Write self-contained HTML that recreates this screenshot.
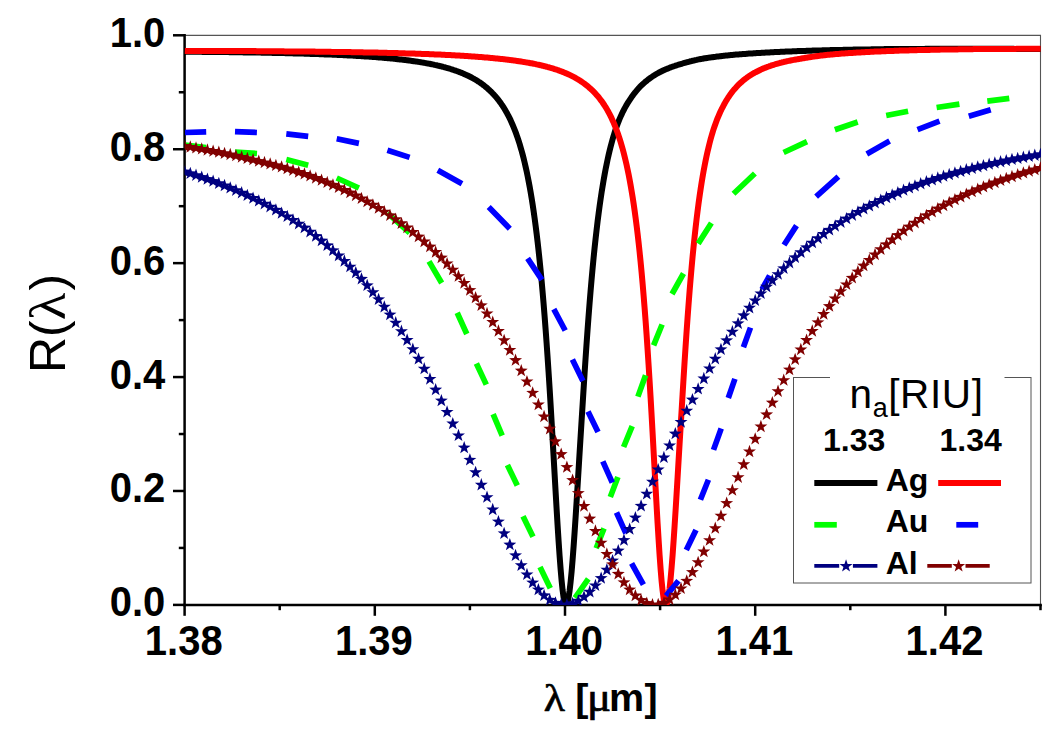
<!DOCTYPE html><html><head><meta charset="utf-8"><title>chart</title><style>
html,body{margin:0;padding:0;background:#fff;}
body{width:1054px;height:737px;position:relative;overflow:hidden;font-family:"Liberation Sans",sans-serif;color:#000;}
.t{position:absolute;white-space:nowrap;line-height:1;}
.b{font-weight:bold;}
.yl{font-size:40px;font-weight:bold;text-align:right;width:100px;left:64.5px;}
.xl{font-size:40px;font-weight:bold;text-align:center;width:120px;}
.lg{font-size:32px;font-weight:bold;}
.sy{font-family:"Liberation Serif",serif;}
</style></head><body>
<svg width="1054" height="737" viewBox="0 0 1054 737" style="position:absolute;left:0;top:0">
<defs><clipPath id="c"><rect x="184.60" y="34.80" width="856.40" height="570.10"/></clipPath></defs>
<line x1="184.60" y1="35.40" x2="1041.00" y2="35.40" stroke="#555" stroke-width="1.1"/>
<line x1="1040.50" y1="34.90" x2="1040.50" y2="604.90" stroke="#555" stroke-width="1.1"/>
<line x1="184.60" y1="34.05" x2="184.60" y2="606.15" stroke="#000" stroke-width="2.50"/>
<line x1="183.35" y1="604.90" x2="1041.85" y2="604.90" stroke="#000" stroke-width="2.50"/>
<line x1="173.00" y1="604.90" x2="184.60" y2="604.90" stroke="#000" stroke-width="2.50"/>
<line x1="178.80" y1="547.94" x2="184.60" y2="547.94" stroke="#000" stroke-width="2.50"/>
<line x1="173.00" y1="490.98" x2="184.60" y2="490.98" stroke="#000" stroke-width="2.50"/>
<line x1="178.80" y1="434.02" x2="184.60" y2="434.02" stroke="#000" stroke-width="2.50"/>
<line x1="173.00" y1="377.06" x2="184.60" y2="377.06" stroke="#000" stroke-width="2.50"/>
<line x1="178.80" y1="320.10" x2="184.60" y2="320.10" stroke="#000" stroke-width="2.50"/>
<line x1="173.00" y1="263.14" x2="184.60" y2="263.14" stroke="#000" stroke-width="2.50"/>
<line x1="178.80" y1="206.18" x2="184.60" y2="206.18" stroke="#000" stroke-width="2.50"/>
<line x1="173.00" y1="149.22" x2="184.60" y2="149.22" stroke="#000" stroke-width="2.50"/>
<line x1="178.80" y1="92.26" x2="184.60" y2="92.26" stroke="#000" stroke-width="2.50"/>
<line x1="173.00" y1="35.30" x2="184.60" y2="35.30" stroke="#000" stroke-width="2.50"/>
<line x1="184.60" y1="604.90" x2="184.60" y2="615.80" stroke="#000" stroke-width="2.50"/>
<line x1="279.70" y1="604.90" x2="279.70" y2="610.20" stroke="#000" stroke-width="2.50"/>
<line x1="374.80" y1="604.90" x2="374.80" y2="615.80" stroke="#000" stroke-width="2.50"/>
<line x1="469.90" y1="604.90" x2="469.90" y2="610.20" stroke="#000" stroke-width="2.50"/>
<line x1="565.00" y1="604.90" x2="565.00" y2="615.80" stroke="#000" stroke-width="2.50"/>
<line x1="660.10" y1="604.90" x2="660.10" y2="610.20" stroke="#000" stroke-width="2.50"/>
<line x1="755.20" y1="604.90" x2="755.20" y2="615.80" stroke="#000" stroke-width="2.50"/>
<line x1="850.30" y1="604.90" x2="850.30" y2="610.20" stroke="#000" stroke-width="2.50"/>
<line x1="945.40" y1="604.90" x2="945.40" y2="615.80" stroke="#000" stroke-width="2.50"/>
<line x1="1040.50" y1="604.90" x2="1040.50" y2="610.20" stroke="#000" stroke-width="2.50"/>
<g clip-path="url(#c)">
<polyline points="184.6,51.7 185.6,51.7 186.6,51.7 187.6,51.7 188.6,51.7 189.6,51.7 190.6,51.7 191.6,51.8 192.6,51.8 193.6,51.8 194.6,51.8 195.6,51.8 196.6,51.8 197.6,51.8 198.6,51.8 199.6,51.8 200.6,51.8 201.6,51.8 202.6,51.9 203.6,51.9 204.6,51.9 205.6,51.9 206.6,51.9 207.6,51.9 208.6,51.9 209.6,51.9 210.6,51.9 211.6,51.9 212.6,52.0 213.6,52.0 214.6,52.0 215.6,52.0 216.6,52.0 217.6,52.0 218.6,52.0 219.6,52.0 220.6,52.0 221.6,52.1 222.6,52.1 223.6,52.1 224.6,52.1 225.6,52.1 226.6,52.1 227.6,52.1 228.6,52.1 229.6,52.2 230.6,52.2 231.6,52.2 232.6,52.2 233.6,52.2 234.6,52.2 235.6,52.2 236.6,52.3 237.6,52.3 238.6,52.3 239.6,52.3 240.6,52.3 241.6,52.3 242.6,52.3 243.6,52.4 244.6,52.4 245.6,52.4 246.6,52.4 247.6,52.4 248.6,52.4 249.6,52.4 250.6,52.5 251.6,52.5 252.6,52.5 253.6,52.5 254.6,52.5 255.6,52.5 256.6,52.6 257.6,52.6 258.6,52.6 259.6,52.6 260.6,52.6 261.6,52.7 262.6,52.7 263.6,52.7 264.6,52.7 265.6,52.7 266.6,52.7 267.6,52.8 268.6,52.8 269.6,52.8 270.6,52.8 271.6,52.8 272.6,52.9 273.6,52.9 274.6,52.9 275.6,52.9 276.6,53.0 277.6,53.0 278.6,53.0 279.6,53.0 280.6,53.0 281.6,53.1 282.6,53.1 283.6,53.1 284.6,53.1 285.6,53.2 286.6,53.2 287.6,53.2 288.6,53.2 289.6,53.3 290.6,53.3 291.6,53.3 292.6,53.3 293.6,53.4 294.6,53.4 295.6,53.4 296.6,53.4 297.6,53.5 298.6,53.5 299.6,53.5 300.6,53.6 301.6,53.6 302.6,53.6 303.6,53.6 304.6,53.7 305.6,53.7 306.6,53.7 307.6,53.8 308.6,53.8 309.6,53.8 310.6,53.9 311.6,53.9 312.6,53.9 313.6,54.0 314.6,54.0 315.6,54.0 316.6,54.1 317.6,54.1 318.6,54.1 319.6,54.2 320.6,54.2 321.6,54.2 322.6,54.3 323.6,54.3 324.6,54.4 325.6,54.4 326.6,54.4 327.6,54.5 328.6,54.5 329.6,54.6 330.6,54.6 331.6,54.6 332.6,54.7 333.6,54.7 334.6,54.8 335.6,54.8 336.6,54.8 337.6,54.9 338.6,54.9 339.6,55.0 340.6,55.0 341.6,55.1 342.6,55.1 343.6,55.2 344.6,55.2 345.6,55.3 346.6,55.3 347.6,55.4 348.6,55.4 349.6,55.5 350.6,55.5 351.6,55.6 352.6,55.6 353.6,55.7 354.6,55.8 355.6,55.8 356.6,55.9 357.6,55.9 358.6,56.0 359.6,56.1 360.6,56.1 361.6,56.2 362.6,56.2 363.6,56.3 364.6,56.4 365.6,56.4 366.6,56.5 367.6,56.6 368.6,56.6 369.6,56.7 370.6,56.8 371.6,56.8 372.6,56.9 373.6,57.0 374.6,57.1 375.6,57.1 376.6,57.2 377.6,57.3 378.6,57.4 379.6,57.5 380.6,57.5 381.6,57.6 382.6,57.7 383.6,57.8 384.6,57.9 385.6,58.0 386.6,58.1 387.6,58.2 388.6,58.2 389.6,58.3 390.6,58.4 391.6,58.5 392.6,58.6 393.6,58.7 394.6,58.8 395.6,58.9 396.6,59.0 397.6,59.2 398.6,59.3 399.6,59.4 400.6,59.5 401.6,59.6 402.6,59.7 403.6,59.8 404.6,60.0 405.6,60.1 406.6,60.2 407.6,60.3 408.6,60.5 409.6,60.6 410.6,60.7 411.6,60.9 412.6,61.0 413.6,61.2 414.6,61.3 415.6,61.4 416.6,61.6 417.6,61.7 418.6,61.9 419.6,62.1 420.6,62.2 421.6,62.4 422.6,62.6 423.6,62.7 424.6,62.9 425.6,63.1 426.6,63.3 427.6,63.4 428.6,63.6 429.6,63.8 430.6,64.0 431.6,64.2 432.6,64.4 433.6,64.6 434.6,64.9 435.6,65.1 436.6,65.3 437.6,65.5 438.6,65.8 439.6,66.0 440.6,66.2 441.6,66.5 442.6,66.7 443.6,67.0 444.6,67.3 445.6,67.5 446.6,67.8 447.6,68.1 448.6,68.4 449.6,68.7 450.6,69.0 451.6,69.3 452.6,69.6 453.6,70.0 454.6,70.3 455.6,70.6 456.6,71.0 457.6,71.3 458.6,71.7 459.6,72.1 460.6,72.5 461.6,72.9 462.6,73.3 463.6,73.7 464.6,74.2 465.6,74.6 466.6,75.1 467.6,75.5 468.6,76.0 469.6,76.5 470.6,77.0 471.6,77.5 472.6,78.1 473.6,78.6 474.6,79.2 475.6,79.8 476.6,80.4 477.6,81.0 478.6,81.7 479.6,82.3 480.6,83.0 481.6,83.7 482.6,84.5 483.6,85.2 484.6,86.0 485.6,86.8 486.6,87.6 487.6,88.5 488.6,89.4 489.6,90.3 490.6,91.3 491.6,92.2 492.6,93.3 493.6,94.3 494.6,95.4 495.6,96.6 496.6,97.7 497.6,99.0 498.6,100.2 499.6,101.6 500.6,102.9 501.6,104.4 502.6,105.8 503.6,107.4 504.6,109.0 505.6,110.7 506.6,112.4 507.6,114.3 508.6,116.2 509.6,118.2 510.6,120.2 511.6,122.4 512.6,124.7 513.6,127.1 514.6,129.6 515.6,132.2 516.6,134.9 517.6,137.8 518.6,140.8 519.6,143.9 520.6,147.3 521.6,150.8 522.6,154.4 523.6,158.3 524.6,162.4 525.6,166.7 526.6,171.2 527.6,176.0 528.6,181.1 529.6,186.4 530.6,192.0 531.6,198.0 532.6,204.3 533.6,211.0 534.6,218.1 535.6,225.6 536.6,233.5 537.6,241.9 538.6,250.8 539.6,260.3 540.6,270.3 541.6,280.8 542.6,292.0 543.6,303.8 544.6,316.2 545.6,329.3 546.6,343.1 547.6,357.5 548.6,372.6 549.6,388.3 550.6,404.6 551.6,421.6 552.6,439.0 553.6,456.5 554.6,474.2 555.6,491.7 556.6,508.9 557.6,525.5 558.6,541.3 559.6,555.9 560.6,569.1 561.6,580.6 562.6,590.2 563.6,597.5 564.6,602.3 565.6,604.7 566.6,604.5 567.6,602.0 568.6,597.4 569.6,590.7 570.6,582.0 571.6,571.7 572.6,559.8 573.6,546.6 574.6,532.3 575.6,517.3 576.6,501.6 577.6,485.5 578.6,469.2 579.6,452.8 580.6,436.6 581.6,420.5 582.6,404.8 583.6,388.8 584.6,373.0 585.6,357.9 586.6,343.2 587.6,329.2 588.6,315.8 589.6,303.0 590.6,290.8 591.6,279.2 592.6,268.2 593.6,257.8 594.6,247.9 595.6,238.6 596.6,229.8 597.6,221.4 598.6,213.6 599.6,206.1 600.6,199.1 601.6,192.4 602.6,186.2 603.6,180.2 604.6,174.6 605.6,169.3 606.6,164.3 607.6,159.5 608.6,155.0 609.6,150.8 610.6,146.8 611.6,142.9 612.6,139.3 613.6,135.8 614.6,132.6 615.6,129.5 616.6,126.7 617.6,124.0 618.6,121.4 619.6,118.9 620.6,116.6 621.6,114.4 622.6,112.3 623.6,110.3 624.6,108.4 625.6,106.6 626.6,104.8 627.6,103.2 628.6,101.6 629.6,100.1 630.6,98.6 631.6,97.1 632.6,95.7 633.6,94.3 634.6,93.0 635.6,91.8 636.6,90.6 637.6,89.4 638.6,88.3 639.6,87.2 640.6,86.2 641.6,85.2 642.6,84.3 643.6,83.3 644.6,82.5 645.6,81.6 646.6,80.8 647.6,80.0 648.6,79.2 649.6,78.5 650.6,77.8 651.6,77.1 652.6,76.4 653.6,75.7 654.6,75.1 655.6,74.5 656.6,73.9 657.6,73.4 658.6,72.8 659.6,72.3 660.6,71.8 661.6,71.3 662.6,70.8 663.6,70.3 664.6,69.9 665.6,69.4 666.6,69.0 667.6,68.6 668.6,68.2 669.6,67.8 670.6,67.4 671.6,67.0 672.6,66.7 673.6,66.3 674.6,66.0 675.6,65.6 676.6,65.3 677.6,65.0 678.6,64.7 679.6,64.4 680.6,64.1 681.6,63.8 682.6,63.5 683.6,63.2 684.6,62.9 685.6,62.6 686.6,62.3 687.6,62.1 688.6,61.8 689.6,61.5 690.6,61.3 691.6,61.0 692.6,60.8 693.6,60.6 694.6,60.3 695.6,60.1 696.6,59.9 697.6,59.6 698.6,59.4 699.6,59.2 700.6,59.0 701.6,58.9 702.6,58.7 703.6,58.5 704.6,58.3 705.6,58.2 706.6,58.0 707.6,57.9 708.6,57.7 709.6,57.6 710.6,57.4 711.6,57.3 712.6,57.2 713.6,57.0 714.6,56.9 715.6,56.8 716.6,56.6 717.6,56.5 718.6,56.4 719.6,56.3 720.6,56.2 721.6,56.0 722.6,55.9 723.6,55.8 724.6,55.7 725.6,55.6 726.6,55.5 727.6,55.4 728.6,55.3 729.6,55.2 730.6,55.1 731.6,55.0 732.6,54.9 733.6,54.8 734.6,54.7 735.6,54.6 736.6,54.6 737.6,54.5 738.6,54.4 739.6,54.3 740.6,54.2 741.6,54.2 742.6,54.1 743.6,54.0 744.6,53.9 745.6,53.9 746.6,53.8 747.6,53.7 748.6,53.6 749.6,53.6 750.6,53.5 751.6,53.4 752.6,53.4 753.6,53.3 754.6,53.2 755.6,53.2 756.6,53.1 757.6,53.1 758.6,53.0 759.6,53.0 760.6,52.9 761.6,52.8 762.6,52.8 763.6,52.7 764.6,52.7 765.6,52.6 766.6,52.5 767.6,52.5 768.6,52.4 769.6,52.4 770.6,52.3 771.6,52.3 772.6,52.2 773.6,52.2 774.6,52.1 775.6,52.1 776.6,52.0 777.6,52.0 778.6,51.9 779.6,51.9 780.6,51.8 781.6,51.8 782.6,51.7 783.6,51.7 784.6,51.7 785.6,51.6 786.6,51.6 787.6,51.5 788.6,51.5 789.6,51.4 790.6,51.4 791.6,51.4 792.6,51.3 793.6,51.3 794.6,51.2 795.6,51.2 796.6,51.2 797.6,51.1 798.6,51.1 799.6,51.1 800.6,51.0 801.6,51.0 802.6,51.0 803.6,50.9 804.6,50.9 805.6,50.9 806.6,50.8 807.6,50.8 808.6,50.8 809.6,50.7 810.6,50.7 811.6,50.7 812.6,50.6 813.6,50.6 814.6,50.6 815.6,50.5 816.6,50.5 817.6,50.5 818.6,50.5 819.6,50.4 820.6,50.4 821.6,50.4 822.6,50.3 823.6,50.3 824.6,50.3 825.6,50.3 826.6,50.2 827.6,50.2 828.6,50.2 829.6,50.2 830.6,50.1 831.6,50.1 832.6,50.1 833.6,50.1 834.6,50.0 835.6,50.0 836.6,50.0 837.6,50.0 838.6,50.0 839.6,49.9 840.6,49.9 841.6,49.9 842.6,49.9 843.6,49.8 844.6,49.8 845.6,49.8 846.6,49.8 847.6,49.8 848.6,49.7 849.6,49.7 850.6,49.7 851.6,49.7 852.6,49.7 853.6,49.6 854.6,49.6 855.6,49.6 856.6,49.6 857.6,49.6 858.6,49.6 859.6,49.5 860.6,49.5 861.6,49.5 862.6,49.5 863.6,49.5 864.6,49.5 865.6,49.4 866.6,49.4 867.6,49.4 868.6,49.4 869.6,49.4 870.6,49.4 871.6,49.3 872.6,49.3 873.6,49.3 874.6,49.3 875.6,49.3 876.6,49.3 877.6,49.2 878.6,49.2 879.6,49.2 880.6,49.2 881.6,49.2 882.6,49.2 883.6,49.2 884.6,49.1 885.6,49.1 886.6,49.1 887.6,49.1 888.6,49.1 889.6,49.1 890.6,49.1 891.6,49.1 892.6,49.0 893.6,49.0 894.6,49.0 895.6,49.0 896.6,49.0 897.6,49.0 898.6,49.0 899.6,49.0 900.6,49.0 901.6,48.9 902.6,48.9 903.6,48.9 904.6,48.9 905.6,48.9 906.6,48.9 907.6,48.9 908.6,48.9 909.6,48.9 910.6,48.9 911.6,48.9 912.6,48.9 913.6,48.9 914.6,48.9 915.6,48.9 916.6,48.9 917.6,48.9 918.6,48.9 919.6,48.9 920.6,48.9 921.6,48.9 922.6,48.9 923.6,48.9 924.6,48.9 925.6,48.8 926.6,48.8 927.6,48.8 928.6,48.8 929.6,48.8 930.6,48.8 931.6,48.8 932.6,48.8 933.6,48.8 934.6,48.8 935.6,48.8 936.6,48.8 937.6,48.8 938.6,48.8 939.6,48.8 940.6,48.8 941.6,48.8 942.6,48.8 943.6,48.8 944.6,48.8 945.6,48.8 946.6,48.8 947.6,48.8 948.6,48.8 949.6,48.8 950.6,48.8 951.6,48.8 952.6,48.8 953.6,48.8 954.6,48.8 955.6,48.8 956.6,48.8 957.6,48.8 958.6,48.8 959.6,48.8 960.6,48.8 961.6,48.8 962.6,48.8 963.6,48.8 964.6,48.8 965.6,48.8 966.6,48.8 967.6,48.8 968.6,48.8 969.6,48.8 970.6,48.8 971.6,48.8 972.6,48.8 973.6,48.8 974.6,48.8 975.6,48.8 976.6,48.8 977.6,48.8 978.6,48.8 979.6,48.8 980.6,48.8 981.6,48.8 982.6,48.8 983.6,48.8 984.6,48.8 985.6,48.8 986.6,48.8 987.6,48.8 988.6,48.8 989.6,48.8 990.6,48.8 991.6,48.8 992.6,48.8 993.6,48.8 994.6,48.8 995.6,48.8 996.6,48.8 997.6,48.8 998.6,48.8 999.6,48.8 1000.6,48.8 1001.6,48.8 1002.6,48.8 1003.6,48.8 1004.6,48.8 1005.6,48.8 1006.6,48.8 1007.6,48.8 1008.6,48.8 1009.6,48.8 1010.6,48.8 1011.6,48.8 1012.6,48.8 1013.6,48.8 1014.6,48.9 1015.6,48.9 1016.6,48.9 1017.6,48.9 1018.6,48.9 1019.6,48.9 1020.6,48.9 1021.6,48.9 1022.6,48.9 1023.6,48.9 1024.6,48.9 1025.6,48.9 1026.6,48.9 1027.6,48.9 1028.6,48.9 1029.6,48.9 1030.6,48.9 1031.6,48.9 1032.6,48.9 1033.6,48.9 1034.6,48.9 1035.6,48.9 1036.6,48.9 1037.6,48.9 1038.6,48.9 1039.6,48.9 1040.6,48.9" fill="none" stroke="#000" stroke-width="6.0" stroke-linejoin="round"/>
<polyline points="184.6,50.8 185.6,50.9 186.6,50.9 187.6,50.9 188.6,50.9 189.6,50.9 190.6,50.9 191.6,50.9 192.6,50.9 193.6,50.9 194.6,50.9 195.6,50.9 196.6,50.9 197.6,50.9 198.6,50.9 199.6,50.9 200.6,50.9 201.6,50.9 202.6,50.9 203.6,50.9 204.6,50.9 205.6,50.9 206.6,50.9 207.6,50.9 208.6,50.9 209.6,50.9 210.6,50.9 211.6,50.9 212.6,50.9 213.6,50.9 214.6,50.9 215.6,51.0 216.6,51.0 217.6,51.0 218.6,51.0 219.6,51.0 220.6,51.0 221.6,51.0 222.6,51.0 223.6,51.0 224.6,51.0 225.6,51.0 226.6,51.0 227.6,51.0 228.6,51.0 229.6,51.0 230.6,51.0 231.6,51.0 232.6,51.0 233.6,51.0 234.6,51.0 235.6,51.0 236.6,51.0 237.6,51.0 238.6,51.1 239.6,51.1 240.6,51.1 241.6,51.1 242.6,51.1 243.6,51.1 244.6,51.1 245.6,51.1 246.6,51.1 247.6,51.1 248.6,51.1 249.6,51.1 250.6,51.1 251.6,51.1 252.6,51.1 253.6,51.1 254.6,51.1 255.6,51.1 256.6,51.2 257.6,51.2 258.6,51.2 259.6,51.2 260.6,51.2 261.6,51.2 262.6,51.2 263.6,51.2 264.6,51.2 265.6,51.2 266.6,51.2 267.6,51.2 268.6,51.2 269.6,51.2 270.6,51.2 271.6,51.3 272.6,51.3 273.6,51.3 274.6,51.3 275.6,51.3 276.6,51.3 277.6,51.3 278.6,51.3 279.6,51.3 280.6,51.3 281.6,51.3 282.6,51.3 283.6,51.3 284.6,51.4 285.6,51.4 286.6,51.4 287.6,51.4 288.6,51.4 289.6,51.4 290.6,51.4 291.6,51.4 292.6,51.4 293.6,51.4 294.6,51.4 295.6,51.5 296.6,51.5 297.6,51.5 298.6,51.5 299.6,51.5 300.6,51.5 301.6,51.5 302.6,51.5 303.6,51.5 304.6,51.5 305.6,51.6 306.6,51.6 307.6,51.6 308.6,51.6 309.6,51.6 310.6,51.6 311.6,51.6 312.6,51.6 313.6,51.6 314.6,51.6 315.6,51.7 316.6,51.7 317.6,51.7 318.6,51.7 319.6,51.7 320.6,51.7 321.6,51.7 322.6,51.7 323.6,51.8 324.6,51.8 325.6,51.8 326.6,51.8 327.6,51.8 328.6,51.8 329.6,51.8 330.6,51.8 331.6,51.9 332.6,51.9 333.6,51.9 334.6,51.9 335.6,51.9 336.6,51.9 337.6,51.9 338.6,52.0 339.6,52.0 340.6,52.0 341.6,52.0 342.6,52.0 343.6,52.0 344.6,52.0 345.6,52.1 346.6,52.1 347.6,52.1 348.6,52.1 349.6,52.1 350.6,52.1 351.6,52.2 352.6,52.2 353.6,52.2 354.6,52.2 355.6,52.2 356.6,52.2 357.6,52.3 358.6,52.3 359.6,52.3 360.6,52.3 361.6,52.3 362.6,52.3 363.6,52.4 364.6,52.4 365.6,52.4 366.6,52.4 367.6,52.4 368.6,52.5 369.6,52.5 370.6,52.5 371.6,52.5 372.6,52.5 373.6,52.6 374.6,52.6 375.6,52.6 376.6,52.6 377.6,52.6 378.6,52.7 379.6,52.7 380.6,52.7 381.6,52.7 382.6,52.8 383.6,52.8 384.6,52.8 385.6,52.8 386.6,52.8 387.6,52.9 388.6,52.9 389.6,52.9 390.6,52.9 391.6,53.0 392.6,53.0 393.6,53.0 394.6,53.0 395.6,53.1 396.6,53.1 397.6,53.1 398.6,53.2 399.6,53.2 400.6,53.2 401.6,53.2 402.6,53.3 403.6,53.3 404.6,53.3 405.6,53.4 406.6,53.4 407.6,53.4 408.6,53.4 409.6,53.5 410.6,53.5 411.6,53.5 412.6,53.6 413.6,53.6 414.6,53.6 415.6,53.7 416.6,53.7 417.6,53.7 418.6,53.8 419.6,53.8 420.6,53.8 421.6,53.9 422.6,53.9 423.6,53.9 424.6,54.0 425.6,54.0 426.6,54.1 427.6,54.1 428.6,54.1 429.6,54.2 430.6,54.2 431.6,54.3 432.6,54.3 433.6,54.3 434.6,54.4 435.6,54.4 436.6,54.5 437.6,54.5 438.6,54.5 439.6,54.6 440.6,54.6 441.6,54.7 442.6,54.7 443.6,54.8 444.6,54.8 445.6,54.9 446.6,54.9 447.6,55.0 448.6,55.0 449.6,55.1 450.6,55.1 451.6,55.2 452.6,55.2 453.6,55.3 454.6,55.3 455.6,55.4 456.6,55.4 457.6,55.5 458.6,55.6 459.6,55.6 460.6,55.7 461.6,55.7 462.6,55.8 463.6,55.8 464.6,55.9 465.6,56.0 466.6,56.0 467.6,56.1 468.6,56.2 469.6,56.2 470.6,56.3 471.6,56.4 472.6,56.4 473.6,56.5 474.6,56.6 475.6,56.7 476.6,56.7 477.6,56.8 478.6,56.9 479.6,57.0 480.6,57.0 481.6,57.1 482.6,57.2 483.6,57.3 484.6,57.4 485.6,57.4 486.6,57.5 487.6,57.6 488.6,57.7 489.6,57.8 490.6,57.9 491.6,58.0 492.6,58.1 493.6,58.2 494.6,58.3 495.6,58.4 496.6,58.5 497.6,58.6 498.6,58.7 499.6,58.8 500.6,58.9 501.6,59.0 502.6,59.1 503.6,59.2 504.6,59.3 505.6,59.4 506.6,59.6 507.6,59.7 508.6,59.8 509.6,59.9 510.6,60.1 511.6,60.2 512.6,60.3 513.6,60.4 514.6,60.6 515.6,60.7 516.6,60.9 517.6,61.0 518.6,61.2 519.6,61.3 520.6,61.5 521.6,61.6 522.6,61.8 523.6,61.9 524.6,62.1 525.6,62.3 526.6,62.4 527.6,62.6 528.6,62.8 529.6,63.0 530.6,63.2 531.6,63.3 532.6,63.5 533.6,63.7 534.6,63.9 535.6,64.1 536.6,64.4 537.6,64.6 538.6,64.8 539.6,65.0 540.6,65.2 541.6,65.5 542.6,65.7 543.6,66.0 544.6,66.2 545.6,66.5 546.6,66.7 547.6,67.0 548.6,67.3 549.6,67.5 550.6,67.8 551.6,68.1 552.6,68.4 553.6,68.7 554.6,69.1 555.6,69.4 556.6,69.7 557.6,70.0 558.6,70.4 559.6,70.8 560.6,71.1 561.6,71.5 562.6,71.9 563.6,72.3 564.6,72.7 565.6,73.1 566.6,73.5 567.6,74.0 568.6,74.4 569.6,74.9 570.6,75.4 571.6,75.9 572.6,76.4 573.6,76.9 574.6,77.4 575.6,78.0 576.6,78.6 577.6,79.1 578.6,79.8 579.6,80.4 580.6,81.0 581.6,81.7 582.6,82.4 583.6,83.1 584.6,83.8 585.6,84.6 586.6,85.4 587.6,86.2 588.6,87.0 589.6,87.9 590.6,88.8 591.6,89.7 592.6,90.7 593.6,91.7 594.6,92.7 595.6,93.8 596.6,94.9 597.6,96.0 598.6,97.2 599.6,98.5 600.6,99.8 601.6,101.1 602.6,102.5 603.6,104.0 604.6,105.5 605.6,107.1 606.6,108.8 607.6,110.5 608.6,112.3 609.6,114.2 610.6,116.2 611.6,118.2 612.6,120.4 613.6,122.6 614.6,125.0 615.6,127.5 616.6,130.1 617.6,132.8 618.6,135.7 619.6,138.7 620.6,141.9 621.6,145.3 622.6,148.8 623.6,152.5 624.6,156.4 625.6,160.6 626.6,164.9 627.6,169.6 628.6,174.4 629.6,179.6 630.6,185.1 631.6,190.9 632.6,197.0 633.6,203.5 634.6,210.5 635.6,217.8 636.6,225.6 637.6,233.9 638.6,242.7 639.6,252.0 640.6,261.9 641.6,272.4 642.6,283.6 643.6,295.4 644.6,307.9 645.6,321.1 646.6,335.0 647.6,349.7 648.6,365.1 649.6,381.1 650.6,397.8 651.6,415.1 652.6,433.0 653.6,451.3 654.6,469.6 655.6,487.9 656.6,505.9 657.6,523.3 658.6,539.8 659.6,555.2 660.6,569.0 661.6,580.9 662.6,590.7 663.6,598.1 664.6,602.9 665.6,604.8 666.6,604.1 667.6,601.1 668.6,595.7 669.6,588.3 670.6,578.8 671.6,567.6 672.6,554.9 673.6,540.9 674.6,525.9 675.6,510.1 676.6,493.8 677.6,477.1 678.6,460.3 679.6,443.6 680.6,427.0 681.6,410.7 682.6,394.1 683.6,377.6 684.6,361.6 685.6,346.2 686.6,331.4 687.6,317.3 688.6,303.9 689.6,291.1 690.6,279.0 691.6,267.5 692.6,256.6 693.6,246.4 694.6,236.7 695.6,227.6 696.6,219.0 697.6,210.9 698.6,203.2 699.6,196.0 700.6,189.2 701.6,182.8 702.6,176.8 703.6,171.1 704.6,165.8 705.6,160.7 706.6,155.9 707.6,151.4 708.6,147.2 709.6,143.1 710.6,139.3 711.6,135.7 712.6,132.3 713.6,129.2 714.6,126.2 715.6,123.4 716.6,120.7 717.6,118.2 718.6,115.8 719.6,113.5 720.6,111.3 721.6,109.2 722.6,107.3 723.6,105.4 724.6,103.5 725.6,101.8 726.6,100.1 727.6,98.5 728.6,96.9 729.6,95.5 730.6,94.1 731.6,92.7 732.6,91.4 733.6,90.2 734.6,89.0 735.6,87.9 736.6,86.8 737.6,85.7 738.6,84.7 739.6,83.7 740.6,82.8 741.6,81.9 742.6,81.0 743.6,80.2 744.6,79.4 745.6,78.6 746.6,77.9 747.6,77.1 748.6,76.4 749.6,75.8 750.6,75.1 751.6,74.5 752.6,73.9 753.6,73.3 754.6,72.8 755.6,72.2 756.6,71.7 757.6,71.2 758.6,70.7 759.6,70.2 760.6,69.7 761.6,69.3 762.6,68.8 763.6,68.4 764.6,68.0 765.6,67.6 766.6,67.2 767.6,66.8 768.6,66.5 769.6,66.1 770.6,65.8 771.6,65.4 772.6,65.1 773.6,64.8 774.6,64.5 775.6,64.2 776.6,63.9 777.6,63.6 778.6,63.3 779.6,63.0 780.6,62.8 781.6,62.5 782.6,62.3 783.6,62.0 784.6,61.8 785.6,61.6 786.6,61.3 787.6,61.1 788.6,60.9 789.6,60.7 790.6,60.5 791.6,60.3 792.6,60.1 793.6,59.9 794.6,59.7 795.6,59.5 796.6,59.4 797.6,59.2 798.6,59.0 799.6,58.9 800.6,58.7 801.6,58.5 802.6,58.3 803.6,58.2 804.6,58.0 805.6,57.8 806.6,57.7 807.6,57.5 808.6,57.3 809.6,57.2 810.6,57.0 811.6,56.9 812.6,56.7 813.6,56.6 814.6,56.4 815.6,56.3 816.6,56.2 817.6,56.0 818.6,55.9 819.6,55.8 820.6,55.6 821.6,55.5 822.6,55.4 823.6,55.3 824.6,55.2 825.6,55.0 826.6,54.9 827.6,54.8 828.6,54.8 829.6,54.7 830.6,54.6 831.6,54.5 832.6,54.4 833.6,54.3 834.6,54.2 835.6,54.1 836.6,54.0 837.6,54.0 838.6,53.9 839.6,53.8 840.6,53.7 841.6,53.6 842.6,53.6 843.6,53.5 844.6,53.4 845.6,53.3 846.6,53.3 847.6,53.2 848.6,53.1 849.6,53.1 850.6,53.0 851.6,52.9 852.6,52.9 853.6,52.8 854.6,52.7 855.6,52.7 856.6,52.6 857.6,52.6 858.6,52.5 859.6,52.4 860.6,52.4 861.6,52.3 862.6,52.3 863.6,52.2 864.6,52.2 865.6,52.1 866.6,52.0 867.6,52.0 868.6,51.9 869.6,51.9 870.6,51.8 871.6,51.8 872.6,51.7 873.6,51.7 874.6,51.6 875.6,51.6 876.6,51.6 877.6,51.5 878.6,51.5 879.6,51.4 880.6,51.4 881.6,51.3 882.6,51.3 883.6,51.2 884.6,51.2 885.6,51.2 886.6,51.1 887.6,51.1 888.6,51.0 889.6,51.0 890.6,51.0 891.6,50.9 892.6,50.9 893.6,50.9 894.6,50.8 895.6,50.8 896.6,50.7 897.6,50.7 898.6,50.7 899.6,50.6 900.6,50.6 901.6,50.6 902.6,50.5 903.6,50.5 904.6,50.5 905.6,50.5 906.6,50.4 907.6,50.4 908.6,50.4 909.6,50.3 910.6,50.3 911.6,50.3 912.6,50.3 913.6,50.2 914.6,50.2 915.6,50.2 916.6,50.2 917.6,50.1 918.6,50.1 919.6,50.1 920.6,50.1 921.6,50.0 922.6,50.0 923.6,50.0 924.6,50.0 925.6,50.0 926.6,49.9 927.6,49.9 928.6,49.9 929.6,49.9 930.6,49.8 931.6,49.8 932.6,49.8 933.6,49.8 934.6,49.8 935.6,49.7 936.6,49.7 937.6,49.7 938.6,49.7 939.6,49.7 940.6,49.6 941.6,49.6 942.6,49.6 943.6,49.6 944.6,49.6 945.6,49.6 946.6,49.5 947.6,49.5 948.6,49.5 949.6,49.5 950.6,49.5 951.6,49.5 952.6,49.4 953.6,49.4 954.6,49.4 955.6,49.4 956.6,49.4 957.6,49.4 958.6,49.3 959.6,49.3 960.6,49.3 961.6,49.3 962.6,49.3 963.6,49.3 964.6,49.3 965.6,49.2 966.6,49.2 967.6,49.2 968.6,49.2 969.6,49.2 970.6,49.2 971.6,49.2 972.6,49.2 973.6,49.1 974.6,49.1 975.6,49.1 976.6,49.1 977.6,49.1 978.6,49.1 979.6,49.1 980.6,49.1 981.6,49.0 982.6,49.0 983.6,49.0 984.6,49.0 985.6,49.0 986.6,49.0 987.6,49.0 988.6,49.0 989.6,49.0 990.6,49.0 991.6,49.0 992.6,49.0 993.6,48.9 994.6,48.9 995.6,48.9 996.6,48.9 997.6,48.9 998.6,48.9 999.6,48.9 1000.6,48.9 1001.6,48.9 1002.6,48.9 1003.6,48.9 1004.6,48.9 1005.6,48.9 1006.6,48.9 1007.6,48.9 1008.6,48.9 1009.6,48.9 1010.6,48.9 1011.6,48.9 1012.6,48.9 1013.6,48.9 1014.6,48.9 1015.6,48.9 1016.6,48.8 1017.6,48.8 1018.6,48.8 1019.6,48.8 1020.6,48.8 1021.6,48.8 1022.6,48.8 1023.6,48.8 1024.6,48.8 1025.6,48.8 1026.6,48.8 1027.6,48.8 1028.6,48.8 1029.6,48.8 1030.6,48.8 1031.6,48.8 1032.6,48.8 1033.6,48.8 1034.6,48.8 1035.6,48.8 1036.6,48.8 1037.6,48.8 1038.6,48.8 1039.6,48.8 1040.6,48.8" fill="none" stroke="#f00" stroke-width="6.0" stroke-linejoin="round"/>
<path d="M185.0,145.0L206.0,147.5M235.0,152.0L257.0,153.5M286.3,159.6L308.2,165.3M336.7,178.0L358.9,188.0M387.4,213.0L409.6,233.0M429.0,261.4L441.7,283.0M457.2,312.8L466.8,334.0M476.4,363.5L486.3,384.6M493.1,414.2L502.2,435.6M507.4,465.0L517.3,485.5M523.0,516.2L533.0,536.8M540.0,567.0L550.3,588.2M575.0,597.8L588.3,578.8M596.2,548.3L604.0,528.4M610.3,496.9L617.9,476.9M623.6,447.0L632.2,426.2M637.9,396.6L645.6,375.2M653.6,345.3L662.1,324.5M672.0,294.0L683.5,273.5M698.2,243.6L711.4,223.0M733.5,193.8L754.9,173.5M783.6,152.5L807.0,141.7M834.9,129.7L857.7,122.0M886.2,115.5L908.1,111.2M936.6,107.5L959.4,104.1M987.3,101.2L1009.3,98.4" fill="none" stroke="#0f0" stroke-width="5.7"/>
<path d="M185.0,132.5L206.2,131.9M235.0,131.6L256.9,132.5M286.3,133.8L308.2,136.3M336.7,138.8L358.9,143.4M387.4,150.2L409.6,157.4M437.8,170.2L462.0,183.8M488.7,207.1L509.8,228.7M527.6,258.4L541.9,279.8M553.8,309.1L565.2,330.5M572.4,359.5L582.9,380.9M588.0,411.4L598.0,431.9M602.8,461.3L612.3,482.6M616.5,512.5L625.9,533.3M631.6,563.3L643.4,584.6M666.1,595.9L678.5,580.7M686.3,550.0L696.0,530.0M700.4,499.7L708.4,479.8M713.5,449.9L721.2,428.5M728.3,398.0L734.9,378.9M743.4,347.3L750.5,327.6M762.0,289.3L769.6,275.5M784.0,245.0L796.5,225.6M816.1,196.7L838.4,176.6M866.8,153.9L889.6,141.1M917.5,129.7L939.5,121.2M968.8,116.3L990.7,109.8" fill="none" stroke="#00f" stroke-width="5.7"/>
<path d="M184.60,164.97L186.20,169.57L191.07,169.67L187.19,172.61L188.60,177.27L184.60,174.49L180.60,177.27L182.01,172.61L178.13,169.67L183.00,169.57ZM190.31,166.75L191.90,171.35L196.77,171.45L192.89,174.39L194.30,179.05L190.31,176.27L186.31,179.05L187.72,174.39L183.84,171.45L188.71,171.35ZM196.01,168.58L197.61,173.18L202.48,173.28L198.60,176.22L200.01,180.88L196.01,178.10L192.02,180.88L193.43,176.22L189.54,173.28L194.41,173.18ZM201.72,170.48L203.32,175.08L208.19,175.18L204.30,178.12L205.71,182.78L201.72,180.00L197.72,182.78L199.13,178.12L195.25,175.18L200.12,175.08ZM207.42,172.46L209.02,177.06L213.89,177.16L210.01,180.10L211.42,184.76L207.42,181.98L203.43,184.76L204.84,180.10L200.96,177.16L205.83,177.06ZM213.13,174.51L214.73,179.11L219.60,179.21L215.72,182.15L217.13,186.81L213.13,184.03L209.13,186.81L210.54,182.15L206.66,179.21L211.53,179.11ZM218.84,176.65L220.43,181.25L225.30,181.35L221.42,184.29L222.83,188.95L218.84,186.17L214.84,188.95L216.25,184.29L212.37,181.35L217.24,181.25ZM224.54,178.87L226.14,183.47L231.01,183.57L227.13,186.51L228.54,191.17L224.54,188.39L220.55,191.17L221.96,186.51L218.07,183.57L222.94,183.47ZM230.25,181.18L231.85,185.78L236.72,185.88L232.83,188.82L234.24,193.48L230.25,190.70L226.25,193.48L227.66,188.82L223.78,185.88L228.65,185.78ZM235.95,183.58L237.55,188.18L242.42,188.28L238.54,191.22L239.95,195.88L235.95,193.10L231.96,195.88L233.37,191.22L229.49,188.28L234.36,188.18ZM241.66,186.08L243.26,190.68L248.13,190.78L244.25,193.72L245.66,198.39L241.66,195.60L237.66,198.39L239.07,193.72L235.19,190.78L240.06,190.68ZM247.37,188.69L248.96,193.29L253.83,193.39L249.95,196.33L251.36,200.99L247.37,198.21L243.37,200.99L244.78,196.33L240.90,193.39L245.77,193.29ZM253.07,191.40L254.67,196.00L259.54,196.10L255.66,199.04L257.07,203.70L253.07,200.92L249.08,203.70L250.49,199.04L246.60,196.10L251.47,196.00ZM258.78,194.23L260.38,198.83L265.25,198.93L261.36,201.87L262.77,206.53L258.78,203.75L254.78,206.53L256.19,201.87L252.31,198.93L257.18,198.83ZM264.48,197.10L266.08,201.70L270.95,201.80L267.07,204.74L268.48,209.40L264.48,206.62L260.49,209.40L261.90,204.74L258.02,201.80L262.89,201.70ZM270.19,200.08L271.79,204.68L276.66,204.77L272.78,207.72L274.19,212.38L270.19,209.60L266.19,212.38L267.60,207.72L263.72,204.77L268.59,204.68ZM275.90,203.18L277.49,207.78L282.36,207.88L278.48,210.82L279.89,215.48L275.90,212.70L271.90,215.48L273.31,210.82L269.43,207.88L274.30,207.78ZM281.60,206.43L283.20,211.03L288.07,211.13L284.19,214.07L285.60,218.73L281.60,215.95L277.61,218.73L279.02,214.07L275.13,211.13L280.00,211.03ZM287.31,209.82L288.91,214.42L293.78,214.52L289.89,217.46L291.30,222.12L287.31,219.34L283.31,222.12L284.72,217.46L280.84,214.52L285.71,214.42ZM293.01,213.37L294.61,217.97L299.48,218.07L295.60,221.01L297.01,225.67L293.01,222.89L289.02,225.67L290.43,221.01L286.55,218.07L291.42,217.97ZM298.72,217.08L300.32,221.68L305.19,221.78L301.31,224.72L302.72,229.38L298.72,226.60L294.72,229.38L296.13,224.72L292.25,221.78L297.12,221.68ZM304.43,221.02L306.02,225.62L310.89,225.72L307.01,228.66L308.42,233.32L304.43,230.54L300.43,233.32L301.84,228.66L297.96,225.72L302.83,225.62ZM310.13,225.15L311.73,229.75L316.60,229.85L312.72,232.79L314.13,237.45L310.13,234.67L306.14,237.45L307.55,232.79L303.66,229.85L308.53,229.75ZM315.84,229.47L317.44,234.07L322.31,234.17L318.42,237.11L319.83,241.77L315.84,238.99L311.84,241.77L313.25,237.11L309.37,234.17L314.24,234.07ZM321.54,233.99L323.14,238.59L328.01,238.69L324.13,241.63L325.54,246.29L321.54,243.51L317.55,246.29L318.96,241.63L315.08,238.69L319.95,238.59ZM327.25,238.72L328.85,243.32L333.72,243.42L329.84,246.36L331.25,251.02L327.25,248.24L323.25,251.02L324.66,246.36L320.78,243.42L325.65,243.32ZM332.96,243.68L334.55,248.28L339.42,248.38L335.54,251.32L336.95,255.98L332.96,253.20L328.96,255.98L330.37,251.32L326.49,248.38L331.36,248.28ZM338.66,248.89L340.26,253.49L345.13,253.59L341.25,256.53L342.66,261.19L338.66,258.41L334.67,261.19L336.08,256.53L332.19,253.59L337.06,253.49ZM344.37,254.34L345.97,258.94L350.84,259.04L346.95,261.98L348.36,266.64L344.37,263.86L340.37,266.64L341.78,261.98L337.90,259.04L342.77,258.94ZM350.07,260.04L351.67,264.64L356.54,264.74L352.66,267.69L354.07,272.35L350.07,269.56L346.08,272.35L347.49,267.69L343.61,264.74L348.48,264.64ZM355.78,266.01L357.38,270.61L362.25,270.71L358.37,273.65L359.78,278.31L355.78,275.53L351.78,278.31L353.19,273.65L349.31,270.71L354.18,270.61ZM361.49,272.24L363.08,276.84L367.95,276.94L364.07,279.89L365.48,284.55L361.49,281.76L357.49,284.55L358.90,279.89L355.02,276.94L359.89,276.84ZM367.19,278.77L368.79,283.37L373.66,283.47L369.78,286.41L371.19,291.07L367.19,288.29L363.20,291.07L364.61,286.41L360.72,283.47L365.59,283.37ZM372.90,285.59L374.50,290.19L379.37,290.29L375.48,293.23L376.89,297.89L372.90,295.11L368.90,297.89L370.31,293.23L366.43,290.29L371.30,290.19ZM378.60,292.72L380.20,297.32L385.07,297.42L381.19,300.36L382.60,305.02L378.60,302.24L374.61,305.02L376.02,300.36L372.14,297.42L377.01,297.32ZM384.31,300.17L385.91,304.77L390.78,304.87L386.90,307.81L388.31,312.47L384.31,309.69L380.31,312.47L381.72,307.81L377.84,304.87L382.71,304.77ZM390.02,307.95L391.61,312.55L396.48,312.65L392.60,315.59L394.01,320.25L390.02,317.47L386.02,320.25L387.43,315.59L383.55,312.65L388.42,312.55ZM395.72,316.07L397.32,320.67L402.19,320.77L398.31,323.71L399.72,328.37L395.72,325.59L391.73,328.37L393.14,323.71L389.25,320.77L394.12,320.67ZM401.43,324.54L403.03,329.14L407.90,329.24L404.01,332.18L405.42,336.84L401.43,334.06L397.43,336.84L398.84,332.18L394.96,329.24L399.83,329.14ZM407.13,333.37L408.73,337.97L413.60,338.07L409.72,341.01L411.13,345.67L407.13,342.89L403.14,345.67L404.55,341.01L400.67,338.07L405.54,337.97ZM412.84,342.57L414.44,347.17L419.31,347.27L415.43,350.21L416.84,354.87L412.84,352.09L408.84,354.87L410.25,350.21L406.37,347.27L411.24,347.17ZM418.55,352.13L420.14,356.73L425.01,356.82L421.13,359.77L422.54,364.43L418.55,361.65L414.55,364.43L415.96,359.77L412.08,356.82L416.95,356.73ZM424.25,362.05L425.85,366.65L430.72,366.75L426.84,369.69L428.25,374.35L424.25,371.57L420.26,374.35L421.67,369.69L417.78,366.75L422.65,366.65ZM429.96,372.34L431.56,376.94L436.43,377.04L432.54,379.98L433.95,384.64L429.96,381.86L425.96,384.64L427.37,379.98L423.49,377.04L428.36,376.94ZM435.66,382.99L437.26,387.59L442.13,387.69L438.25,390.63L439.66,395.29L435.66,392.51L431.67,395.29L433.08,390.63L429.20,387.69L434.07,387.59ZM441.37,393.98L442.97,398.58L447.84,398.68L443.96,401.62L445.37,406.28L441.37,403.50L437.37,406.28L438.78,401.62L434.90,398.68L439.77,398.58ZM447.08,405.30L448.67,409.90L453.54,410.00L449.66,412.94L451.07,417.60L447.08,414.82L443.08,417.60L444.49,412.94L440.61,410.00L445.48,409.90ZM452.78,416.92L454.38,421.52L459.25,421.62L455.37,424.56L456.78,429.22L452.78,426.44L448.79,429.22L450.20,424.56L446.31,421.62L451.18,421.52ZM458.49,428.81L460.09,433.41L464.96,433.51L461.07,436.45L462.48,441.11L458.49,438.33L454.49,441.11L455.90,436.45L452.02,433.51L456.89,433.41ZM464.19,440.93L465.79,445.53L470.66,445.63L466.78,448.57L468.19,453.23L464.19,450.45L460.20,453.23L461.61,448.57L457.73,445.63L462.60,445.53ZM469.90,453.23L471.50,457.83L476.37,457.93L472.49,460.87L473.90,465.53L469.90,462.75L465.90,465.53L467.31,460.87L463.43,457.93L468.30,457.83ZM475.61,465.65L477.20,470.25L482.07,470.35L478.19,473.29L479.60,477.95L475.61,475.17L471.61,477.95L473.02,473.29L469.14,470.35L474.01,470.25ZM481.31,478.12L482.91,482.72L487.78,482.82L483.90,485.76L485.31,490.42L481.31,487.64L477.32,490.42L478.73,485.76L474.84,482.82L479.71,482.72ZM487.02,490.56L488.62,495.16L493.49,495.25L489.60,498.20L491.01,502.86L487.02,500.08L483.02,502.86L484.43,498.20L480.55,495.25L485.42,495.16ZM492.72,502.87L494.32,507.47L499.19,507.57L495.31,510.51L496.72,515.17L492.72,512.39L488.73,515.17L490.14,510.51L486.26,507.57L491.13,507.47ZM498.43,514.96L500.03,519.56L504.90,519.66L501.02,522.60L502.43,527.26L498.43,524.48L494.43,527.26L495.84,522.60L491.96,519.66L496.83,519.56ZM504.14,526.70L505.73,531.30L510.60,531.40L506.72,534.35L508.13,539.01L504.14,536.22L500.14,539.01L501.55,534.35L497.67,531.40L502.54,531.30ZM509.84,537.99L511.44,542.59L516.31,542.69L512.43,545.63L513.84,550.29L509.84,547.51L505.85,550.29L507.26,545.63L503.37,542.69L508.24,542.59ZM515.55,548.68L517.15,553.28L522.02,553.38L518.13,556.33L519.54,560.99L515.55,558.20L511.55,560.99L512.96,556.33L509.08,553.38L513.95,553.28ZM521.25,558.66L522.85,563.26L527.72,563.36L523.84,566.30L525.25,570.96L521.25,568.18L517.26,570.96L518.67,566.30L514.79,563.36L519.66,563.26ZM526.96,567.80L528.56,572.40L533.43,572.50L529.55,575.44L530.96,580.10L526.96,577.32L522.96,580.10L524.37,575.44L520.49,572.50L525.36,572.40ZM532.67,575.94L534.26,580.54L539.13,580.64L535.25,583.58L536.66,588.24L532.67,585.46L528.67,588.24L530.08,583.58L526.20,580.64L531.07,580.54ZM538.37,582.96L539.97,587.55L544.84,587.65L540.96,590.60L542.37,595.26L538.37,592.48L534.38,595.26L535.79,590.60L531.90,587.65L536.77,587.55ZM544.08,588.74L545.68,593.34L550.55,593.44L546.66,596.38L548.07,601.04L544.08,598.26L540.08,601.04L541.49,596.38L537.61,593.44L542.48,593.34ZM549.78,593.20L551.38,597.80L556.25,597.89L552.37,600.84L553.78,605.50L549.78,602.72L545.79,605.50L547.20,600.84L543.32,597.89L548.19,597.80ZM555.49,596.25L557.09,600.85L561.96,600.95L558.08,603.89L559.49,608.55L555.49,605.77L551.49,608.55L552.90,603.89L549.02,600.95L553.89,600.85ZM561.20,597.85L562.79,602.45L567.66,602.55L563.78,605.49L565.19,610.15L561.20,607.37L557.20,610.15L558.61,605.49L554.73,602.55L559.60,602.45ZM566.90,597.98L568.50,602.58L573.37,602.68L569.49,605.62L570.90,610.28L566.90,607.50L562.91,610.28L564.32,605.62L560.43,602.68L565.30,602.58ZM572.61,596.73L574.21,601.33L579.08,601.42L575.19,604.37L576.60,609.03L572.61,606.25L568.61,609.03L570.02,604.37L566.14,601.42L571.01,601.33ZM578.31,594.13L579.91,598.73L584.78,598.83L580.90,601.77L582.31,606.43L578.31,603.65L574.32,606.43L575.73,601.77L571.85,598.83L576.72,598.73ZM584.02,590.24L585.62,594.84L590.49,594.94L586.61,597.88L588.02,602.54L584.02,599.76L580.02,602.54L581.43,597.88L577.55,594.94L582.42,594.84ZM589.73,585.11L591.32,589.71L596.19,589.81L592.31,592.75L593.72,597.41L589.73,594.63L585.73,597.41L587.14,592.75L583.26,589.81L588.13,589.71ZM595.43,578.81L597.03,583.41L601.90,583.51L598.02,586.45L599.43,591.11L595.43,588.33L591.44,591.11L592.85,586.45L588.96,583.51L593.83,583.41ZM601.14,571.45L602.74,576.05L607.61,576.15L603.72,579.09L605.13,583.75L601.14,580.97L597.14,583.75L598.55,579.09L594.67,576.15L599.54,576.05ZM606.84,563.12L608.44,567.72L613.31,567.82L609.43,570.76L610.84,575.42L606.84,572.64L602.85,575.42L604.26,570.76L600.38,567.82L605.25,567.72ZM612.55,553.93L614.15,558.53L619.02,558.63L615.14,561.57L616.55,566.23L612.55,563.45L608.55,566.23L609.96,561.57L606.08,558.63L610.95,558.53ZM618.26,544.01L619.85,548.61L624.72,548.71L620.84,551.65L622.25,556.31L618.26,553.53L614.26,556.31L615.67,551.65L611.79,548.71L616.66,548.61ZM623.96,533.46L625.56,538.05L630.43,538.15L626.55,541.10L627.96,545.76L623.96,542.98L619.97,545.76L621.38,541.10L617.49,538.15L622.36,538.05ZM629.67,522.40L631.27,526.99L636.14,527.09L632.25,530.04L633.66,534.70L629.67,531.92L625.67,534.70L627.08,530.04L623.20,527.09L628.07,526.99ZM635.37,510.94L636.97,515.54L641.84,515.64L637.96,518.58L639.37,523.24L635.37,520.46L631.38,523.24L632.79,518.58L628.91,515.64L633.78,515.54ZM641.08,499.19L642.68,503.79L647.55,503.88L643.67,506.83L645.08,511.49L641.08,508.71L637.08,511.49L638.49,506.83L634.61,503.88L639.48,503.79ZM646.79,487.17L648.38,491.77L653.25,491.87L649.37,494.81L650.78,499.47L646.79,496.69L642.79,499.47L644.20,494.81L640.32,491.87L645.19,491.77ZM652.49,475.05L654.09,479.65L658.96,479.74L655.08,482.69L656.49,487.35L652.49,484.57L648.50,487.35L649.91,482.69L646.02,479.74L650.89,479.65ZM658.20,462.90L659.80,467.50L664.67,467.60L660.78,470.54L662.19,475.20L658.20,472.42L654.20,475.20L655.61,470.54L651.73,467.60L656.60,467.50ZM663.90,450.80L665.50,455.40L670.37,455.50L666.49,458.44L667.90,463.10L663.90,460.32L659.91,463.10L661.32,458.44L657.44,455.50L662.31,455.40ZM669.61,438.82L671.21,443.42L676.08,443.51L672.20,446.46L673.61,451.12L669.61,448.34L665.61,451.12L667.02,446.46L663.14,443.51L668.01,443.42ZM675.32,427.00L676.91,431.60L681.78,431.70L677.90,434.64L679.31,439.31L675.32,436.52L671.32,439.31L672.73,434.64L668.85,431.70L673.72,431.60ZM681.02,415.41L682.62,420.01L687.49,420.11L683.61,423.05L685.02,427.71L681.02,424.93L677.03,427.71L678.44,423.05L674.55,420.11L679.42,420.01ZM686.73,404.07L688.33,408.67L693.20,408.77L689.31,411.71L690.72,416.37L686.73,413.59L682.73,416.37L684.14,411.71L680.26,408.77L685.13,408.67ZM692.43,393.02L694.03,397.62L698.90,397.72L695.02,400.66L696.43,405.32L692.43,402.54L688.44,405.32L689.85,400.66L685.97,397.72L690.84,397.62ZM698.14,382.28L699.74,386.88L704.61,386.98L700.73,389.92L702.14,394.58L698.14,391.80L694.14,394.58L695.55,389.92L691.67,386.98L696.54,386.88ZM703.85,371.87L705.44,376.47L710.31,376.57L706.43,379.51L707.84,384.17L703.85,381.39L699.85,384.17L701.26,379.51L697.38,376.57L702.25,376.47ZM709.55,361.80L711.15,366.40L716.02,366.50L712.14,369.44L713.55,374.11L709.55,371.32L705.56,374.11L706.97,369.44L703.08,366.50L707.95,366.40ZM715.26,352.08L716.86,356.68L721.73,356.78L717.84,359.72L719.25,364.39L715.26,361.60L711.26,364.39L712.67,359.72L708.79,356.78L713.66,356.68ZM720.96,342.72L722.56,347.32L727.43,347.42L723.55,350.36L724.96,355.02L720.96,352.24L716.97,355.02L718.38,350.36L714.50,347.42L719.37,347.32ZM726.67,333.71L728.27,338.30L733.14,338.40L729.26,341.35L730.67,346.01L726.67,343.23L722.67,346.01L724.08,341.35L720.20,338.40L725.07,338.30ZM732.38,325.04L733.97,329.64L738.84,329.74L734.96,332.68L736.37,337.35L732.38,334.56L728.38,337.35L729.79,332.68L725.91,329.74L730.78,329.64ZM738.08,316.73L739.68,321.33L744.55,321.43L740.67,324.37L742.08,329.03L738.08,326.25L734.09,329.03L735.50,324.37L731.61,321.43L736.48,321.33ZM743.79,308.76L745.39,313.36L750.26,313.45L746.37,316.40L747.78,321.06L743.79,318.28L739.79,321.06L741.20,316.40L737.32,313.45L742.19,313.36ZM749.49,301.11L751.09,305.71L755.96,305.81L752.08,308.76L753.49,313.42L749.49,310.63L745.50,313.42L746.91,308.76L743.03,305.81L747.90,305.71ZM755.20,293.80L756.80,298.40L761.67,298.50L757.79,301.44L759.20,306.10L755.20,303.32L751.20,306.10L752.61,301.44L748.73,298.50L753.60,298.40ZM760.91,286.79L762.50,291.39L767.37,291.49L763.49,294.43L764.90,299.09L760.91,296.31L756.91,299.09L758.32,294.43L754.44,291.49L759.31,291.39ZM766.61,280.09L768.21,284.69L773.08,284.79L769.20,287.73L770.61,292.39L766.61,289.61L762.62,292.39L764.03,287.73L760.14,284.79L765.01,284.69ZM772.32,273.68L773.92,278.28L778.79,278.38L774.90,281.32L776.31,285.98L772.32,283.20L768.32,285.98L769.73,281.32L765.85,278.38L770.72,278.28ZM778.02,267.55L779.62,272.15L784.49,272.25L780.61,275.20L782.02,279.86L778.02,277.07L774.03,279.86L775.44,275.20L771.56,272.25L776.43,272.15ZM783.73,261.70L785.33,266.30L790.20,266.40L786.32,269.34L787.73,274.00L783.73,271.22L779.73,274.00L781.14,269.34L777.26,266.40L782.13,266.30ZM789.44,256.10L791.03,260.70L795.90,260.80L792.02,263.74L793.43,268.40L789.44,265.62L785.44,268.40L786.85,263.74L782.97,260.80L787.84,260.70ZM795.14,250.74L796.74,255.34L801.61,255.44L797.73,258.39L799.14,263.05L795.14,260.26L791.15,263.05L792.56,258.39L788.67,255.44L793.54,255.34ZM800.85,245.63L802.45,250.23L807.32,250.33L803.43,253.27L804.84,257.93L800.85,255.15L796.85,257.93L798.26,253.27L794.38,250.33L799.25,250.23ZM806.55,240.74L808.15,245.34L813.02,245.44L809.14,248.38L810.55,253.04L806.55,250.26L802.56,253.04L803.97,248.38L800.09,245.44L804.96,245.34ZM812.26,236.07L813.86,240.67L818.73,240.76L814.85,243.71L816.26,248.37L812.26,245.59L808.26,248.37L809.67,243.71L805.79,240.76L810.66,240.67ZM817.97,231.60L819.56,236.20L824.43,236.30L820.55,239.24L821.96,243.90L817.97,241.12L813.97,243.90L815.38,239.24L811.50,236.30L816.37,236.20ZM823.67,227.33L825.27,231.93L830.14,232.02L826.26,234.97L827.67,239.63L823.67,236.85L819.68,239.63L821.09,234.97L817.20,232.02L822.07,231.93ZM829.38,223.24L830.98,227.84L835.85,227.94L831.96,230.88L833.37,235.54L829.38,232.76L825.38,235.54L826.79,230.88L822.91,227.94L827.78,227.84ZM835.08,219.33L836.68,223.93L841.55,224.03L837.67,226.97L839.08,231.63L835.08,228.85L831.09,231.63L832.50,226.97L828.62,224.03L833.49,223.93ZM840.79,215.59L842.39,220.19L847.26,220.29L843.38,223.23L844.79,227.90L840.79,225.11L836.79,227.90L838.20,223.23L834.32,220.29L839.19,220.19ZM846.50,212.02L848.09,216.62L852.96,216.71L849.08,219.66L850.49,224.32L846.50,221.54L842.50,224.32L843.91,219.66L840.03,216.71L844.90,216.62ZM852.20,208.59L853.80,213.19L858.67,213.29L854.79,216.23L856.20,220.89L852.20,218.11L848.21,220.89L849.62,216.23L845.73,213.29L850.60,213.19ZM857.91,205.31L859.51,209.91L864.38,210.01L860.49,212.95L861.90,217.61L857.91,214.83L853.91,217.61L855.32,212.95L851.44,210.01L856.31,209.91ZM863.61,202.17L865.21,206.77L870.08,206.87L866.20,209.81L867.61,214.48L863.61,211.69L859.62,214.48L861.03,209.81L857.15,206.87L862.02,206.77ZM869.32,199.17L870.92,203.77L875.79,203.86L871.91,206.81L873.32,211.47L869.32,208.69L865.32,211.47L866.73,206.81L862.85,203.86L867.72,203.77ZM875.03,196.28L876.62,200.88L881.49,200.98L877.61,203.92L879.02,208.58L875.03,205.80L871.03,208.58L872.44,203.92L868.56,200.98L873.43,200.88ZM880.73,193.52L882.33,198.12L887.20,198.22L883.32,201.16L884.73,205.82L880.73,203.04L876.74,205.82L878.15,201.16L874.26,198.22L879.13,198.12ZM886.44,190.87L888.04,195.47L892.91,195.57L889.02,198.51L890.43,203.17L886.44,200.39L882.44,203.17L883.85,198.51L879.97,195.57L884.84,195.47ZM892.14,188.33L893.74,192.93L898.61,193.03L894.73,195.97L896.14,200.63L892.14,197.85L888.15,200.63L889.56,195.97L885.68,193.03L890.55,192.93ZM897.85,185.89L899.45,190.49L904.32,190.59L900.44,193.53L901.85,198.19L897.85,195.41L893.85,198.19L895.26,193.53L891.38,190.59L896.25,190.49ZM903.56,183.55L905.15,188.15L910.02,188.25L906.14,191.19L907.55,195.86L903.56,193.07L899.56,195.86L900.97,191.19L897.09,188.25L901.96,188.15ZM909.26,181.31L910.86,185.91L915.73,186.01L911.85,188.95L913.26,193.61L909.26,190.83L905.27,193.61L906.68,188.95L902.79,186.01L907.66,185.91ZM914.97,179.15L916.57,183.75L921.44,183.85L917.55,186.79L918.96,191.45L914.97,188.67L910.97,191.45L912.38,186.79L908.50,183.85L913.37,183.75ZM920.67,177.08L922.27,181.68L927.14,181.78L923.26,184.72L924.67,189.38L920.67,186.60L916.68,189.38L918.09,184.72L914.21,181.78L919.08,181.68ZM926.38,175.09L927.98,179.69L932.85,179.79L928.97,182.73L930.38,187.39L926.38,184.61L922.38,187.39L923.79,182.73L919.91,179.79L924.78,179.69ZM932.09,173.17L933.68,177.77L938.55,177.87L934.67,180.81L936.08,185.47L932.09,182.69L928.09,185.47L929.50,180.81L925.62,177.87L930.49,177.77ZM937.79,171.33L939.39,175.93L944.26,176.03L940.38,178.97L941.79,183.63L937.79,180.85L933.80,183.63L935.21,178.97L931.32,176.03L936.19,175.93ZM943.50,169.56L945.10,174.16L949.97,174.26L946.08,177.20L947.49,181.86L943.50,179.08L939.50,181.86L940.91,177.20L937.03,174.26L941.90,174.16ZM949.20,167.86L950.80,172.46L955.67,172.56L951.79,175.50L953.20,180.16L949.20,177.38L945.21,180.16L946.62,175.50L942.74,172.56L947.61,172.46ZM954.91,166.22L956.51,170.82L961.38,170.92L957.50,173.86L958.91,178.52L954.91,175.74L950.91,178.52L952.32,173.86L948.44,170.92L953.31,170.82ZM960.62,164.64L962.21,169.24L967.08,169.34L963.20,172.28L964.61,176.94L960.62,174.16L956.62,176.94L958.03,172.28L954.15,169.34L959.02,169.24ZM966.32,163.12L967.92,167.72L972.79,167.82L968.91,170.76L970.32,175.42L966.32,172.64L962.33,175.42L963.74,170.76L959.85,167.82L964.72,167.72ZM972.03,161.65L973.63,166.25L978.50,166.35L974.61,169.29L976.02,173.95L972.03,171.17L968.03,173.95L969.44,169.29L965.56,166.35L970.43,166.25ZM977.73,160.24L979.33,164.84L984.20,164.94L980.32,167.88L981.73,172.54L977.73,169.76L973.74,172.54L975.15,167.88L971.27,164.94L976.14,164.84ZM983.44,158.88L985.04,163.48L989.91,163.58L986.03,166.52L987.44,171.18L983.44,168.40L979.44,171.18L980.85,166.52L976.97,163.58L981.84,163.48ZM989.15,157.57L990.74,162.17L995.61,162.27L991.73,165.21L993.14,169.87L989.15,167.09L985.15,169.87L986.56,165.21L982.68,162.27L987.55,162.17ZM994.85,156.30L996.45,160.90L1001.32,161.00L997.44,163.94L998.85,168.60L994.85,165.82L990.86,168.60L992.27,163.94L988.38,161.00L993.25,160.90ZM1000.56,155.08L1002.16,159.68L1007.03,159.78L1003.14,162.72L1004.55,167.38L1000.56,164.60L996.56,167.38L997.97,162.72L994.09,159.78L998.96,159.68ZM1006.26,153.90L1007.86,158.50L1012.73,158.60L1008.85,161.55L1010.26,166.21L1006.26,163.42L1002.27,166.21L1003.68,161.55L999.80,158.60L1004.67,158.50ZM1011.97,152.77L1013.57,157.37L1018.44,157.47L1014.56,160.41L1015.97,165.07L1011.97,162.29L1007.97,165.07L1009.38,160.41L1005.50,157.47L1010.37,157.37ZM1017.68,151.67L1019.27,156.27L1024.14,156.37L1020.26,159.31L1021.67,163.97L1017.68,161.19L1013.68,163.97L1015.09,159.31L1011.21,156.37L1016.08,156.27ZM1023.38,150.61L1024.98,155.21L1029.85,155.31L1025.97,158.25L1027.38,162.91L1023.38,160.13L1019.39,162.91L1020.80,158.25L1016.91,155.31L1021.78,155.21ZM1029.09,149.58L1030.69,154.18L1035.56,154.28L1031.67,157.22L1033.08,161.89L1029.09,159.10L1025.09,161.89L1026.50,157.22L1022.62,154.28L1027.49,154.18ZM1034.79,148.59L1036.39,153.19L1041.26,153.29L1037.38,156.23L1038.79,160.89L1034.79,158.11L1030.80,160.89L1032.21,156.23L1028.33,153.29L1033.20,153.19ZM1040.50,147.64L1042.10,152.24L1046.97,152.34L1043.09,155.28L1044.50,159.94L1040.50,157.16L1036.50,159.94L1037.91,155.28L1034.03,152.34L1038.90,152.24Z" fill="#000080"/>
<path d="M184.60,139.40L186.20,144.00L191.07,144.10L187.19,147.04L188.60,151.70L184.60,148.92L180.60,151.70L182.01,147.04L178.13,144.10L183.00,144.00ZM190.31,140.34L191.90,144.94L196.77,145.04L192.89,147.98L194.30,152.64L190.31,149.86L186.31,152.64L187.72,147.98L183.84,145.04L188.71,144.94ZM196.01,141.30L197.61,145.90L202.48,146.00L198.60,148.94L200.01,153.60L196.01,150.82L192.02,153.60L193.43,148.94L189.54,146.00L194.41,145.90ZM201.72,142.30L203.32,146.90L208.19,147.00L204.30,149.94L205.71,154.60L201.72,151.82L197.72,154.60L199.13,149.94L195.25,147.00L200.12,146.90ZM207.42,143.33L209.02,147.93L213.89,148.03L210.01,150.97L211.42,155.63L207.42,152.85L203.43,155.63L204.84,150.97L200.96,148.03L205.83,147.93ZM213.13,144.40L214.73,149.00L219.60,149.10L215.72,152.04L217.13,156.70L213.13,153.92L209.13,156.70L210.54,152.04L206.66,149.10L211.53,149.00ZM218.84,145.50L220.43,150.10L225.30,150.20L221.42,153.14L222.83,157.81L218.84,155.02L214.84,157.81L216.25,153.14L212.37,150.20L217.24,150.10ZM224.54,146.65L226.14,151.25L231.01,151.35L227.13,154.29L228.54,158.95L224.54,156.17L220.55,158.95L221.96,154.29L218.07,151.35L222.94,151.25ZM230.25,147.84L231.85,152.43L236.72,152.53L232.83,155.48L234.24,160.14L230.25,157.36L226.25,160.14L227.66,155.48L223.78,152.53L228.65,152.43ZM235.95,149.06L237.55,153.66L242.42,153.76L238.54,156.71L239.95,161.37L235.95,158.58L231.96,161.37L233.37,156.71L229.49,153.76L234.36,153.66ZM241.66,150.34L243.26,154.94L248.13,155.04L244.25,157.98L245.66,162.64L241.66,159.86L237.66,162.64L239.07,157.98L235.19,155.04L240.06,154.94ZM247.37,151.66L248.96,156.26L253.83,156.36L249.95,159.30L251.36,163.96L247.37,161.18L243.37,163.96L244.78,159.30L240.90,156.36L245.77,156.26ZM253.07,153.03L254.67,157.63L259.54,157.73L255.66,160.67L257.07,165.33L253.07,162.55L249.08,165.33L250.49,160.67L246.60,157.73L251.47,157.63ZM258.78,154.45L260.38,159.05L265.25,159.15L261.36,162.10L262.77,166.76L258.78,163.97L254.78,166.76L256.19,162.10L252.31,159.15L257.18,159.05ZM264.48,155.84L266.08,160.44L270.95,160.54L267.07,163.48L268.48,168.14L264.48,165.36L260.49,168.14L261.90,163.48L258.02,160.54L262.89,160.44ZM270.19,157.25L271.79,161.85L276.66,161.95L272.78,164.90L274.19,169.56L270.19,166.77L266.19,169.56L267.60,164.90L263.72,161.95L268.59,161.85ZM275.90,158.73L277.49,163.33L282.36,163.43L278.48,166.37L279.89,171.03L275.90,168.25L271.90,171.03L273.31,166.37L269.43,163.43L274.30,163.33ZM281.60,160.27L283.20,164.87L288.07,164.97L284.19,167.91L285.60,172.57L281.60,169.79L277.61,172.57L279.02,167.91L275.13,164.97L280.00,164.87ZM287.31,161.87L288.91,166.47L293.78,166.57L289.89,169.51L291.30,174.17L287.31,171.39L283.31,174.17L284.72,169.51L280.84,166.57L285.71,166.47ZM293.01,163.58L294.61,168.18L299.48,168.28L295.60,171.22L297.01,175.88L293.01,173.10L289.02,175.88L290.43,171.22L286.55,168.28L291.42,168.18ZM298.72,165.40L300.32,170.00L305.19,170.10L301.31,173.04L302.72,177.70L298.72,174.92L294.72,177.70L296.13,173.04L292.25,170.10L297.12,170.00ZM304.43,167.30L306.02,171.90L310.89,172.00L307.01,174.94L308.42,179.60L304.43,176.82L300.43,179.60L301.84,174.94L297.96,172.00L302.83,171.90ZM310.13,169.27L311.73,173.87L316.60,173.97L312.72,176.91L314.13,181.58L310.13,178.79L306.14,181.58L307.55,176.91L303.66,173.97L308.53,173.87ZM315.84,171.33L317.44,175.93L322.31,176.03L318.42,178.97L319.83,183.63L315.84,180.85L311.84,183.63L313.25,178.97L309.37,176.03L314.24,175.93ZM321.54,173.50L323.14,178.10L328.01,178.19L324.13,181.14L325.54,185.80L321.54,183.02L317.55,185.80L318.96,181.14L315.08,178.19L319.95,178.10ZM327.25,175.79L328.85,180.39L333.72,180.49L329.84,183.43L331.25,188.09L327.25,185.31L323.25,188.09L324.66,183.43L320.78,180.49L325.65,180.39ZM332.96,178.19L334.55,182.79L339.42,182.88L335.54,185.83L336.95,190.49L332.96,187.71L328.96,190.49L330.37,185.83L326.49,182.88L331.36,182.79ZM338.66,180.68L340.26,185.28L345.13,185.38L341.25,188.32L342.66,192.98L338.66,190.20L334.67,192.98L336.08,188.32L332.19,185.38L337.06,185.28ZM344.37,183.29L345.97,187.88L350.84,187.98L346.95,190.93L348.36,195.59L344.37,192.81L340.37,195.59L341.78,190.93L337.90,187.98L342.77,187.88ZM350.07,186.00L351.67,190.60L356.54,190.70L352.66,193.64L354.07,198.30L350.07,195.52L346.08,198.30L347.49,193.64L343.61,190.70L348.48,190.60ZM355.78,188.84L357.38,193.44L362.25,193.54L358.37,196.48L359.78,201.14L355.78,198.36L351.78,201.14L353.19,196.48L349.31,193.54L354.18,193.44ZM361.49,191.80L363.08,196.40L367.95,196.50L364.07,199.44L365.48,204.10L361.49,201.32L357.49,204.10L358.90,199.44L355.02,196.50L359.89,196.40ZM367.19,194.89L368.79,199.49L373.66,199.59L369.78,202.54L371.19,207.20L367.19,204.41L363.20,207.20L364.61,202.54L360.72,199.59L365.59,199.49ZM372.90,198.13L374.50,202.73L379.37,202.83L375.48,205.77L376.89,210.43L372.90,207.65L368.90,210.43L370.31,205.77L366.43,202.83L371.30,202.73ZM378.60,201.51L380.20,206.11L385.07,206.21L381.19,209.15L382.60,213.81L378.60,211.03L374.61,213.81L376.02,209.15L372.14,206.21L377.01,206.11ZM384.31,205.05L385.91,209.65L390.78,209.74L386.90,212.69L388.31,217.35L384.31,214.57L380.31,217.35L381.72,212.69L377.84,209.74L382.71,209.65ZM390.02,208.75L391.61,213.35L396.48,213.44L392.60,216.39L394.01,221.05L390.02,218.27L386.02,221.05L387.43,216.39L383.55,213.44L388.42,213.35ZM395.72,212.62L397.32,217.22L402.19,217.32L398.31,220.26L399.72,224.92L395.72,222.14L391.73,224.92L393.14,220.26L389.25,217.32L394.12,217.22ZM401.43,216.67L403.03,221.27L407.90,221.37L404.01,224.31L405.42,228.97L401.43,226.19L397.43,228.97L398.84,224.31L394.96,221.37L399.83,221.27ZM407.13,220.91L408.73,225.51L413.60,225.61L409.72,228.55L411.13,233.22L407.13,230.43L403.14,233.22L404.55,228.55L400.67,225.61L405.54,225.51ZM412.84,225.36L414.44,229.96L419.31,230.06L415.43,233.00L416.84,237.66L412.84,234.88L408.84,237.66L410.25,233.00L406.37,230.06L411.24,229.96ZM418.55,230.02L420.14,234.62L425.01,234.72L421.13,237.66L422.54,242.32L418.55,239.54L414.55,242.32L415.96,237.66L412.08,234.72L416.95,234.62ZM424.25,234.90L425.85,239.50L430.72,239.60L426.84,242.54L428.25,247.20L424.25,244.42L420.26,247.20L421.67,242.54L417.78,239.60L422.65,239.50ZM429.96,240.01L431.56,244.61L436.43,244.71L432.54,247.65L433.95,252.31L429.96,249.53L425.96,252.31L427.37,247.65L423.49,244.71L428.36,244.61ZM435.66,245.37L437.26,249.97L442.13,250.07L438.25,253.01L439.66,257.68L435.66,254.89L431.67,257.68L433.08,253.01L429.20,250.07L434.07,249.97ZM441.37,251.00L442.97,255.60L447.84,255.69L443.96,258.64L445.37,263.30L441.37,260.52L437.37,263.30L438.78,258.64L434.90,255.69L439.77,255.60ZM447.08,256.89L448.67,261.49L453.54,261.59L449.66,264.53L451.07,269.19L447.08,266.41L443.08,269.19L444.49,264.53L440.61,261.59L445.48,261.49ZM452.78,263.07L454.38,267.67L459.25,267.77L455.37,270.71L456.78,275.37L452.78,272.59L448.79,275.37L450.20,270.71L446.31,267.77L451.18,267.67ZM458.49,269.54L460.09,274.14L464.96,274.24L461.07,277.18L462.48,281.85L458.49,279.06L454.49,281.85L455.90,277.18L452.02,274.24L456.89,274.14ZM464.19,276.33L465.79,280.93L470.66,281.03L466.78,283.97L468.19,288.63L464.19,285.85L460.20,288.63L461.61,283.97L457.73,281.03L462.60,280.93ZM469.90,283.45L471.50,288.05L476.37,288.15L472.49,291.09L473.90,295.75L469.90,292.97L465.90,295.75L467.31,291.09L463.43,288.15L468.30,288.05ZM475.61,290.90L477.20,295.50L482.07,295.60L478.19,298.54L479.60,303.20L475.61,300.42L471.61,303.20L473.02,298.54L469.14,295.60L474.01,295.50ZM481.31,298.70L482.91,303.30L487.78,303.40L483.90,306.35L485.31,311.01L481.31,308.22L477.32,311.01L478.73,306.35L474.84,303.40L479.71,303.30ZM487.02,306.87L488.62,311.47L493.49,311.57L489.60,314.51L491.01,319.17L487.02,316.39L483.02,319.17L484.43,314.51L480.55,311.57L485.42,311.47ZM492.72,315.41L494.32,320.01L499.19,320.11L495.31,323.05L496.72,327.72L492.72,324.93L488.73,327.72L490.14,323.05L486.26,320.11L491.13,320.01ZM498.43,324.34L500.03,328.94L504.90,329.04L501.02,331.98L502.43,336.64L498.43,333.86L494.43,336.64L495.84,331.98L491.96,329.04L496.83,328.94ZM504.14,333.66L505.73,338.26L510.60,338.36L506.72,341.30L508.13,345.96L504.14,343.18L500.14,345.96L501.55,341.30L497.67,338.36L502.54,338.26ZM509.84,343.37L511.44,347.97L516.31,348.07L512.43,351.01L513.84,355.67L509.84,352.89L505.85,355.67L507.26,351.01L503.37,348.07L508.24,347.97ZM515.55,353.49L517.15,358.09L522.02,358.19L518.13,361.13L519.54,365.79L515.55,363.01L511.55,365.79L512.96,361.13L509.08,358.19L513.95,358.09ZM521.25,364.00L522.85,368.60L527.72,368.70L523.84,371.64L525.25,376.30L521.25,373.52L517.26,376.30L518.67,371.64L514.79,368.70L519.66,368.60ZM526.96,374.91L528.56,379.51L533.43,379.61L529.55,382.55L530.96,387.21L526.96,384.43L522.96,387.21L524.37,382.55L520.49,379.61L525.36,379.51ZM532.67,386.20L534.26,390.80L539.13,390.90L535.25,393.84L536.66,398.50L532.67,395.72L528.67,398.50L530.08,393.84L526.20,390.90L531.07,390.80ZM538.37,397.86L539.97,402.46L544.84,402.56L540.96,405.50L542.37,410.16L538.37,407.38L534.38,410.16L535.79,405.50L531.90,402.56L536.77,402.46ZM544.08,409.85L545.68,414.45L550.55,414.55L546.66,417.49L548.07,422.15L544.08,419.37L540.08,422.15L541.49,417.49L537.61,414.55L542.48,414.45ZM549.78,422.16L551.38,426.76L556.25,426.86L552.37,429.80L553.78,434.46L549.78,431.68L545.79,434.46L547.20,429.80L543.32,426.86L548.19,426.76ZM555.49,434.73L557.09,439.33L561.96,439.43L558.08,442.37L559.49,447.03L555.49,444.25L551.49,447.03L552.90,442.37L549.02,439.43L553.89,439.33ZM561.20,447.52L562.79,452.12L567.66,452.22L563.78,455.16L565.19,459.82L561.20,457.04L557.20,459.82L558.61,455.16L554.73,452.22L559.60,452.12ZM566.90,460.46L568.50,465.06L573.37,465.15L569.49,468.10L570.90,472.76L566.90,469.98L562.91,472.76L564.32,468.10L560.43,465.15L565.30,465.06ZM572.61,473.47L574.21,478.07L579.08,478.17L575.19,481.11L576.60,485.77L572.61,482.99L568.61,485.77L570.02,481.11L566.14,478.17L571.01,478.07ZM578.31,486.47L579.91,491.07L584.78,491.17L580.90,494.11L582.31,498.77L578.31,495.99L574.32,498.77L575.73,494.11L571.85,491.17L576.72,491.07ZM584.02,499.35L585.62,503.95L590.49,504.05L586.61,506.99L588.02,511.66L584.02,508.87L580.02,511.66L581.43,506.99L577.55,504.05L582.42,503.95ZM589.73,512.01L591.32,516.61L596.19,516.71L592.31,519.65L593.72,524.32L589.73,521.53L585.73,524.32L587.14,519.65L583.26,516.71L588.13,516.61ZM595.43,524.32L597.03,528.92L601.90,529.02L598.02,531.96L599.43,536.62L595.43,533.84L591.44,536.62L592.85,531.96L588.96,529.02L593.83,528.92ZM601.14,536.15L602.74,540.75L607.61,540.84L603.72,543.79L605.13,548.45L601.14,545.67L597.14,548.45L598.55,543.79L594.67,540.84L599.54,540.75ZM606.84,547.34L608.44,551.94L613.31,552.04L609.43,554.98L610.84,559.64L606.84,556.86L602.85,559.64L604.26,554.98L600.38,552.04L605.25,551.94ZM612.55,557.77L614.15,562.37L619.02,562.47L615.14,565.41L616.55,570.07L612.55,567.29L608.55,570.07L609.96,565.41L606.08,562.47L610.95,562.37ZM618.26,567.27L619.85,571.87L624.72,571.97L620.84,574.91L622.25,579.57L618.26,576.79L614.26,579.57L615.67,574.91L611.79,571.97L616.66,571.87ZM623.96,575.71L625.56,580.31L630.43,580.41L626.55,583.35L627.96,588.01L623.96,585.23L619.97,588.01L621.38,583.35L617.49,580.41L622.36,580.31ZM629.67,582.96L631.27,587.56L636.14,587.66L632.25,590.60L633.66,595.26L629.67,592.48L625.67,595.26L627.08,590.60L623.20,587.66L628.07,587.56ZM635.37,588.90L636.97,593.50L641.84,593.60L637.96,596.54L639.37,601.21L635.37,598.42L631.38,601.21L632.79,596.54L628.91,593.60L633.78,593.50ZM641.08,593.43L642.68,598.03L647.55,598.13L643.67,601.07L645.08,605.73L641.08,602.95L637.08,605.73L638.49,601.07L634.61,598.13L639.48,598.03ZM646.79,596.46L648.38,601.06L653.25,601.16L649.37,604.11L650.78,608.77L646.79,605.98L642.79,608.77L644.20,604.11L640.32,601.16L645.19,601.06ZM652.49,597.95L654.09,602.55L658.96,602.65L655.08,605.59L656.49,610.25L652.49,607.47L648.50,610.25L649.91,605.59L646.02,602.65L650.89,602.55ZM658.20,597.85L659.80,602.44L664.67,602.54L660.78,605.49L662.19,610.15L658.20,607.37L654.20,610.15L655.61,605.49L651.73,602.54L656.60,602.44ZM663.90,596.13L665.50,600.73L670.37,600.83L666.49,603.77L667.90,608.44L663.90,605.65L659.91,608.44L661.32,603.77L657.44,600.83L662.31,600.73ZM669.61,592.84L671.21,597.44L676.08,597.54L672.20,600.48L673.61,605.14L669.61,602.36L665.61,605.14L667.02,600.48L663.14,597.54L668.01,597.44ZM675.32,588.03L676.91,592.63L681.78,592.73L677.90,595.67L679.31,600.33L675.32,597.55L671.32,600.33L672.73,595.67L668.85,592.73L673.72,592.63ZM681.02,581.78L682.62,586.38L687.49,586.48L683.61,589.42L685.02,594.08L681.02,591.30L677.03,594.08L678.44,589.42L674.55,586.48L679.42,586.38ZM686.73,574.22L688.33,578.82L693.20,578.92L689.31,581.86L690.72,586.52L686.73,583.74L682.73,586.52L684.14,581.86L680.26,578.92L685.13,578.82ZM692.43,565.46L694.03,570.06L698.90,570.16L695.02,573.10L696.43,577.76L692.43,574.98L688.44,577.76L689.85,573.10L685.97,570.16L690.84,570.06ZM698.14,555.64L699.74,560.24L704.61,560.34L700.73,563.28L702.14,567.95L698.14,565.16L694.14,567.95L695.55,563.28L691.67,560.34L696.54,560.24ZM703.85,544.93L705.44,549.53L710.31,549.62L706.43,552.57L707.84,557.23L703.85,554.45L699.85,557.23L701.26,552.57L697.38,549.62L702.25,549.53ZM709.55,533.53L711.15,538.13L716.02,538.23L712.14,541.17L713.55,545.83L709.55,543.05L705.56,545.83L706.97,541.17L703.08,538.23L707.95,538.13ZM715.26,521.55L716.86,526.15L721.73,526.25L717.84,529.19L719.25,533.85L715.26,531.07L711.26,533.85L712.67,529.19L708.79,526.25L713.66,526.15ZM720.96,509.14L722.56,513.74L727.43,513.84L723.55,516.79L724.96,521.45L720.96,518.66L716.97,521.45L718.38,516.79L714.50,513.84L719.37,513.74ZM726.67,496.44L728.27,501.04L733.14,501.13L729.26,504.08L730.67,508.74L726.67,505.96L722.67,508.74L724.08,504.08L720.20,501.13L725.07,501.04ZM732.38,483.55L733.97,488.15L738.84,488.25L734.96,491.19L736.37,495.85L732.38,493.07L728.38,495.85L729.79,491.19L725.91,488.25L730.78,488.15ZM738.08,470.60L739.68,475.20L744.55,475.30L740.67,478.24L742.08,482.90L738.08,480.12L734.09,482.90L735.50,478.24L731.61,475.30L736.48,475.20ZM743.79,457.67L745.39,462.27L750.26,462.37L746.37,465.32L747.78,469.98L743.79,467.19L739.79,469.98L741.20,465.32L737.32,462.37L742.19,462.27ZM749.49,444.87L751.09,449.47L755.96,449.56L752.08,452.51L753.49,457.17L749.49,454.39L745.50,457.17L746.91,452.51L743.03,449.56L747.90,449.47ZM755.20,432.24L756.80,436.84L761.67,436.94L757.79,439.88L759.20,444.54L755.20,441.76L751.20,444.54L752.61,439.88L748.73,436.94L753.60,436.84ZM760.91,419.86L762.50,424.46L767.37,424.56L763.49,427.50L764.90,432.16L760.91,429.38L756.91,432.16L758.32,427.50L754.44,424.56L759.31,424.46ZM766.61,407.77L768.21,412.37L773.08,412.47L769.20,415.41L770.61,420.07L766.61,417.29L762.62,420.07L764.03,415.41L760.14,412.47L765.01,412.37ZM772.32,396.01L773.92,400.61L778.79,400.71L774.90,403.65L776.31,408.31L772.32,405.53L768.32,408.31L769.73,403.65L765.85,400.71L770.72,400.61ZM778.02,384.60L779.62,389.20L784.49,389.30L780.61,392.24L782.02,396.90L778.02,394.12L774.03,396.90L775.44,392.24L771.56,389.30L776.43,389.20ZM783.73,373.57L785.33,378.17L790.20,378.27L786.32,381.21L787.73,385.87L783.73,383.09L779.73,385.87L781.14,381.21L777.26,378.27L782.13,378.17ZM789.44,362.93L791.03,367.53L795.90,367.63L792.02,370.57L793.43,375.23L789.44,372.45L785.44,375.23L786.85,370.57L782.97,367.63L787.84,367.53ZM795.14,352.69L796.74,357.29L801.61,357.39L797.73,360.33L799.14,364.99L795.14,362.21L791.15,364.99L792.56,360.33L788.67,357.39L793.54,357.29ZM800.85,342.85L802.45,347.45L807.32,347.54L803.43,350.49L804.84,355.15L800.85,352.37L796.85,355.15L798.26,350.49L794.38,347.54L799.25,347.45ZM806.55,333.40L808.15,338.00L813.02,338.10L809.14,341.04L810.55,345.70L806.55,342.92L802.56,345.70L803.97,341.04L800.09,338.10L804.96,338.00ZM812.26,324.35L813.86,328.95L818.73,329.05L814.85,331.99L816.26,336.65L812.26,333.87L808.26,336.65L809.67,331.99L805.79,329.05L810.66,328.95ZM817.97,315.69L819.56,320.29L824.43,320.39L820.55,323.33L821.96,327.99L817.97,325.21L813.97,327.99L815.38,323.33L811.50,320.39L816.37,320.29ZM823.67,307.41L825.27,312.00L830.14,312.10L826.26,315.05L827.67,319.71L823.67,316.93L819.68,319.71L821.09,315.05L817.20,312.10L822.07,312.00ZM829.38,299.49L830.98,304.09L835.85,304.19L831.96,307.13L833.37,311.79L829.38,309.01L825.38,311.79L826.79,307.13L822.91,304.19L827.78,304.09ZM835.08,291.93L836.68,296.52L841.55,296.62L837.67,299.57L839.08,304.23L835.08,301.45L831.09,304.23L832.50,299.57L828.62,296.62L833.49,296.52ZM840.79,284.71L842.39,289.30L847.26,289.40L843.38,292.35L844.79,297.01L840.79,294.23L836.79,297.01L838.20,292.35L834.32,289.40L839.19,289.30ZM846.50,277.82L848.09,282.41L852.96,282.51L849.08,285.46L850.49,290.12L846.50,287.34L842.50,290.12L843.91,285.46L840.03,282.51L844.90,282.41ZM852.20,271.24L853.80,275.84L858.67,275.94L854.79,278.88L856.20,283.54L852.20,280.76L848.21,283.54L849.62,278.88L845.73,275.94L850.60,275.84ZM857.91,264.97L859.51,269.57L864.38,269.67L860.49,272.61L861.90,277.27L857.91,274.49L853.91,277.27L855.32,272.61L851.44,269.67L856.31,269.57ZM863.61,258.99L865.21,263.59L870.08,263.68L866.20,266.63L867.61,271.29L863.61,268.51L859.62,271.29L861.03,266.63L857.15,263.68L862.02,263.59ZM869.32,253.28L870.92,257.88L875.79,257.98L871.91,260.92L873.32,265.58L869.32,262.80L865.32,265.58L866.73,260.92L862.85,257.98L867.72,257.88ZM875.03,247.84L876.62,252.43L881.49,252.53L877.61,255.48L879.02,260.14L875.03,257.36L871.03,260.14L872.44,255.48L868.56,252.53L873.43,252.43ZM880.73,242.64L882.33,247.24L887.20,247.34L883.32,250.28L884.73,254.94L880.73,252.16L876.74,254.94L878.15,250.28L874.26,247.34L879.13,247.24ZM886.44,237.69L888.04,242.28L892.91,242.38L889.02,245.33L890.43,249.99L886.44,247.21L882.44,249.99L883.85,245.33L879.97,242.38L884.84,242.28ZM892.14,232.96L893.74,237.56L898.61,237.65L894.73,240.60L896.14,245.26L892.14,242.48L888.15,245.26L889.56,240.60L885.68,237.65L890.55,237.56ZM897.85,228.44L899.45,233.04L904.32,233.14L900.44,236.08L901.85,240.74L897.85,237.96L893.85,240.74L895.26,236.08L891.38,233.14L896.25,233.04ZM903.56,224.13L905.15,228.73L910.02,228.83L906.14,231.77L907.55,236.43L903.56,233.65L899.56,236.43L900.97,231.77L897.09,228.83L901.96,228.73ZM909.26,220.01L910.86,224.61L915.73,224.71L911.85,227.65L913.26,232.31L909.26,229.53L905.27,232.31L906.68,227.65L902.79,224.71L907.66,224.61ZM914.97,216.08L916.57,220.68L921.44,220.78L917.55,223.72L918.96,228.38L914.97,225.60L910.97,228.38L912.38,223.72L908.50,220.78L913.37,220.68ZM920.67,212.32L922.27,216.92L927.14,217.02L923.26,219.96L924.67,224.62L920.67,221.84L916.68,224.62L918.09,219.96L914.21,217.02L919.08,216.92ZM926.38,208.73L927.98,213.33L932.85,213.43L928.97,216.37L930.38,221.03L926.38,218.25L922.38,221.03L923.79,216.37L919.91,213.43L924.78,213.33ZM932.09,205.29L933.68,209.89L938.55,209.99L934.67,212.93L936.08,217.59L932.09,214.81L928.09,217.59L929.50,212.93L925.62,209.99L930.49,209.89ZM937.79,202.00L939.39,206.60L944.26,206.70L940.38,209.64L941.79,214.31L937.79,211.52L933.80,214.31L935.21,209.64L931.32,206.70L936.19,206.60ZM943.50,198.86L945.10,203.46L949.97,203.56L946.08,206.50L947.49,211.16L943.50,208.38L939.50,211.16L940.91,206.50L937.03,203.56L941.90,203.46ZM949.20,195.85L950.80,200.45L955.67,200.54L951.79,203.49L953.20,208.15L949.20,205.37L945.21,208.15L946.62,203.49L942.74,200.54L947.61,200.45ZM954.91,192.96L956.51,197.56L961.38,197.66L957.50,200.60L958.91,205.26L954.91,202.48L950.91,205.26L952.32,200.60L948.44,197.66L953.31,197.56ZM960.62,190.20L962.21,194.80L967.08,194.90L963.20,197.84L964.61,202.50L960.62,199.72L956.62,202.50L958.03,197.84L954.15,194.90L959.02,194.80ZM966.32,187.55L967.92,192.15L972.79,192.25L968.91,195.19L970.32,199.85L966.32,197.07L962.33,199.85L963.74,195.19L959.85,192.25L964.72,192.15ZM972.03,185.01L973.63,189.61L978.50,189.71L974.61,192.65L976.02,197.31L972.03,194.53L968.03,197.31L969.44,192.65L965.56,189.71L970.43,189.61ZM977.73,182.57L979.33,187.17L984.20,187.27L980.32,190.22L981.73,194.88L977.73,192.09L973.74,194.88L975.15,190.22L971.27,187.27L976.14,187.17ZM983.44,180.24L985.04,184.84L989.91,184.94L986.03,187.88L987.44,192.54L983.44,189.76L979.44,192.54L980.85,187.88L976.97,184.94L981.84,184.84ZM989.15,177.99L990.74,182.59L995.61,182.69L991.73,185.63L993.14,190.29L989.15,187.51L985.15,190.29L986.56,185.63L982.68,182.69L987.55,182.59ZM994.85,175.84L996.45,180.44L1001.32,180.54L997.44,183.48L998.85,188.14L994.85,185.36L990.86,188.14L992.27,183.48L988.38,180.54L993.25,180.44ZM1000.56,173.77L1002.16,178.37L1007.03,178.47L1003.14,181.41L1004.55,186.07L1000.56,183.29L996.56,186.07L997.97,181.41L994.09,178.47L998.96,178.37ZM1006.26,171.78L1007.86,176.38L1012.73,176.48L1008.85,179.42L1010.26,184.08L1006.26,181.30L1002.27,184.08L1003.68,179.42L999.80,176.48L1004.67,176.38ZM1011.97,169.87L1013.57,174.47L1018.44,174.57L1014.56,177.51L1015.97,182.17L1011.97,179.39L1007.97,182.17L1009.38,177.51L1005.50,174.57L1010.37,174.47ZM1017.68,168.03L1019.27,172.63L1024.14,172.73L1020.26,175.67L1021.67,180.33L1017.68,177.55L1013.68,180.33L1015.09,175.67L1011.21,172.73L1016.08,172.63ZM1023.38,166.26L1024.98,170.86L1029.85,170.96L1025.97,173.90L1027.38,178.56L1023.38,175.78L1019.39,178.56L1020.80,173.90L1016.91,170.96L1021.78,170.86ZM1029.09,164.55L1030.69,169.15L1035.56,169.25L1031.67,172.19L1033.08,176.86L1029.09,174.07L1025.09,176.86L1026.50,172.19L1022.62,169.25L1027.49,169.15ZM1034.79,162.91L1036.39,167.51L1041.26,167.61L1037.38,170.55L1038.79,175.22L1034.79,172.43L1030.80,175.22L1032.21,170.55L1028.33,167.61L1033.20,167.51ZM1040.50,161.33L1042.10,165.93L1046.97,166.03L1043.09,168.97L1044.50,173.64L1040.50,170.85L1036.50,173.64L1037.91,168.97L1034.03,166.03L1038.90,165.93Z" fill="#800000"/>
</g>
<rect x="793.5" y="377.5" width="237.5" height="205.5" fill="#fff" stroke="#555" stroke-width="1"/>
<rect x="830" y="370" width="174.5" height="20" fill="#fff"/>
<line x1="814.3" y1="483" x2="877.4" y2="483" stroke="#000" stroke-width="6.0"/>
<line x1="938.2" y1="483" x2="1001" y2="483" stroke="#f00" stroke-width="6.0"/>
<line x1="814.3" y1="524.8" x2="836.8" y2="524.8" stroke="#0f0" stroke-width="5.7"/>
<line x1="956.3" y1="524.8" x2="978.2" y2="524.8" stroke="#00f" stroke-width="5.7"/>
<path d="M814.3,565.9H839.2M852.9,565.9H877.4" stroke="#000080" stroke-width="3.8"/>
<path d="M846.05,559.30L847.65,563.90L852.52,564.00L848.64,566.94L850.05,571.60L846.05,568.82L842.05,571.60L843.46,566.94L839.58,564.00L844.45,563.90Z" fill="#000080"/>
<path d="M927.3,565.9H951.8M965.5,565.9H989.7" stroke="#800000" stroke-width="3.8"/>
<path d="M958.65,559.30L960.25,563.90L965.12,564.00L961.24,566.94L962.65,571.60L958.65,568.82L954.65,571.60L956.06,566.94L952.18,564.00L957.05,563.90Z" fill="#800000"/>
</svg>
<svg width="1054" height="737" style="position:absolute;left:0;top:0;overflow:visible" font-family="Liberation Sans" font-weight="bold" font-size="40">
<text transform="translate(165.3,616.40) scale(1,1.060)" text-anchor="end">0.0</text>
<text transform="translate(165.3,502.48) scale(1,1.060)" text-anchor="end">0.2</text>
<text transform="translate(165.3,388.56) scale(1,1.060)" text-anchor="end">0.4</text>
<text transform="translate(165.3,274.64) scale(1,1.060)" text-anchor="end">0.6</text>
<text transform="translate(165.3,160.72) scale(1,1.060)" text-anchor="end">0.8</text>
<text transform="translate(165.3,46.80) scale(1,1.060)" text-anchor="end">1.0</text>
<text transform="translate(183.70,655.3) scale(1,1.060)" text-anchor="middle">1.38</text>
<text transform="translate(373.90,655.3) scale(1,1.060)" text-anchor="middle">1.39</text>
<text transform="translate(564.10,655.3) scale(1,1.060)" text-anchor="middle">1.40</text>
<text transform="translate(754.30,655.3) scale(1,1.060)" text-anchor="middle">1.41</text>
<text transform="translate(944.50,655.3) scale(1,1.060)" text-anchor="middle">1.42</text>
</svg>
<svg width="1054" height="737" style="position:absolute;left:0;top:0;overflow:visible">
<g font-family="Liberation Sans" font-weight="bold" font-size="39.5">
<text transform="translate(543.81,711.40) scale(1.15,1)" font-family="Liberation Serif" font-weight="normal" font-size="38" stroke="#000" stroke-width="0.7">&#955;</text>
<text x="575.3" y="711.4">[</text>
<text transform="translate(586.91,711.40) scale(1.08,1)" font-family="Liberation Serif" font-weight="normal" font-size="41.5" stroke="#000" stroke-width="0.7">&#956;</text>
<text x="609" y="711.4">m</text>
<text x="644.4" y="711.4">]</text>
</g>
<g transform="translate(65.2,373) rotate(-90)" font-family="Liberation Sans" font-size="50">
<text x="0" y="0">R(</text>
<text transform="translate(52.77,0) scale(1.11,1)" font-family="Liberation Serif" font-size="51.4">&#955;</text>
<text x="82.5" y="0">)</text>
</g>
</svg>
<div class="t" style="left:849.5px;top:373.5px;font-size:40.5px;letter-spacing:0.6px">n<span style="font-size:27px;position:relative;top:9.7px">a</span>[RIU]</div>
<div class="t lg" style="left:823px;top:423.5px">1.33</div>
<div class="t lg" style="left:939.5px;top:423.5px">1.34</div>
<div class="t lg" style="left:885.7px;top:464px">Ag</div>
<div class="t lg" style="left:885.7px;top:505px">Au</div>
<div class="t lg" style="left:885.7px;top:546.5px">Al</div>
</body></html>
